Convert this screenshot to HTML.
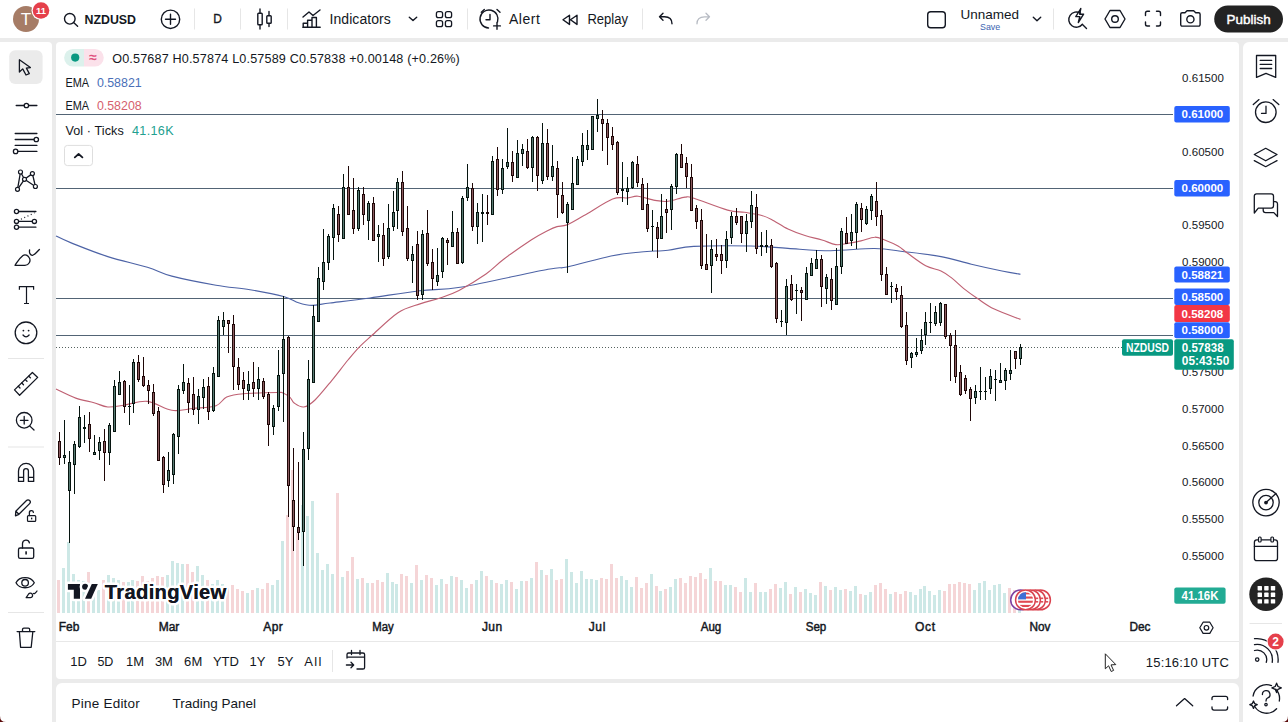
<!DOCTYPE html>
<html><head><meta charset="utf-8"><style>
html,body{margin:0;padding:0;width:1288px;height:722px;overflow:hidden;background:#ebebeb;}
svg{display:block;font-family:"Liberation Sans", sans-serif;}
</style></head><body>
<svg width="1288" height="722" viewBox="0 0 1288 722">
<rect x="0" y="0" width="1288" height="722" fill="#ebebeb"/>
<rect x="0" y="0" width="1288" height="38" fill="#fff"/>
<path d="M0 42 H48 a4 4 0 0 1 4 4 V722 H0 Z" fill="#fff"/>
<rect x="56" y="42" width="1183" height="637" rx="4" fill="#fff"/>
<path d="M62 683 H1233 a6 6 0 0 1 6 6 V722 H56 V689 a6 6 0 0 1 6 -6 Z" fill="#fff"/>
<path d="M1249 42 H1288 V722 H1243 V48 a6 6 0 0 1 6 -6 Z" fill="#fff"/>
<g shape-rendering="crispEdges">
<rect x="57" y="580" width="3" height="33" fill="#f5d5d7"/>
<rect x="62" y="568" width="3" height="45" fill="#cde8e6"/>
<rect x="67" y="542" width="3" height="71" fill="#cde8e6"/>
<rect x="72" y="574" width="3" height="39" fill="#cde8e6"/>
<rect x="77" y="580" width="3" height="33" fill="#cde8e6"/>
<rect x="82" y="581" width="3" height="32" fill="#cde8e6"/>
<rect x="87" y="572" width="3" height="41" fill="#f5d5d7"/>
<rect x="92" y="585" width="3" height="28" fill="#cde8e6"/>
<rect x="97" y="590" width="3" height="23" fill="#cde8e6"/>
<rect x="102" y="580" width="3" height="33" fill="#f5d5d7"/>
<rect x="107" y="575" width="3" height="38" fill="#cde8e6"/>
<rect x="112" y="578" width="3" height="35" fill="#cde8e6"/>
<rect x="117" y="580" width="3" height="33" fill="#cde8e6"/>
<rect x="122" y="582" width="3" height="31" fill="#f5d5d7"/>
<rect x="127" y="582" width="3" height="31" fill="#cde8e6"/>
<rect x="131" y="580" width="3" height="33" fill="#cde8e6"/>
<rect x="136" y="581" width="3" height="32" fill="#f5d5d7"/>
<rect x="141" y="576" width="3" height="37" fill="#f5d5d7"/>
<rect x="146" y="581" width="3" height="32" fill="#f5d5d7"/>
<rect x="151" y="578" width="3" height="35" fill="#f5d5d7"/>
<rect x="156" y="576" width="3" height="37" fill="#f5d5d7"/>
<rect x="161" y="577" width="3" height="36" fill="#f5d5d7"/>
<rect x="166" y="575" width="3" height="38" fill="#cde8e6"/>
<rect x="171" y="561" width="3" height="52" fill="#cde8e6"/>
<rect x="176" y="563" width="3" height="50" fill="#cde8e6"/>
<rect x="181" y="564" width="3" height="49" fill="#cde8e6"/>
<rect x="186" y="564" width="3" height="49" fill="#f5d5d7"/>
<rect x="191" y="572" width="3" height="41" fill="#f5d5d7"/>
<rect x="196" y="566" width="3" height="47" fill="#cde8e6"/>
<rect x="201" y="575" width="3" height="38" fill="#cde8e6"/>
<rect x="206" y="580" width="3" height="33" fill="#f5d5d7"/>
<rect x="211" y="584" width="3" height="29" fill="#cde8e6"/>
<rect x="216" y="580" width="3" height="33" fill="#cde8e6"/>
<rect x="221" y="584" width="3" height="29" fill="#cde8e6"/>
<rect x="226" y="588" width="3" height="25" fill="#f5d5d7"/>
<rect x="231" y="585" width="3" height="28" fill="#f5d5d7"/>
<rect x="236" y="589" width="3" height="24" fill="#f5d5d7"/>
<rect x="241" y="591" width="3" height="22" fill="#f5d5d7"/>
<rect x="246" y="593" width="3" height="20" fill="#cde8e6"/>
<rect x="251" y="590" width="3" height="23" fill="#f5d5d7"/>
<rect x="256" y="588" width="3" height="25" fill="#cde8e6"/>
<rect x="261" y="589" width="3" height="24" fill="#f5d5d7"/>
<rect x="266" y="583" width="3" height="30" fill="#f5d5d7"/>
<rect x="271" y="585" width="3" height="28" fill="#cde8e6"/>
<rect x="276" y="580" width="3" height="33" fill="#cde8e6"/>
<rect x="281" y="541" width="3" height="72" fill="#cde8e6"/>
<rect x="286" y="515" width="3" height="98" fill="#f5d5d7"/>
<rect x="291" y="470" width="3" height="143" fill="#f5d5d7"/>
<rect x="296" y="533" width="3" height="80" fill="#f5d5d7"/>
<rect x="301" y="505" width="3" height="108" fill="#cde8e6"/>
<rect x="306" y="516" width="3" height="97" fill="#cde8e6"/>
<rect x="311" y="501" width="3" height="112" fill="#cde8e6"/>
<rect x="316" y="553" width="3" height="60" fill="#cde8e6"/>
<rect x="321" y="570" width="3" height="43" fill="#cde8e6"/>
<rect x="326" y="564" width="3" height="49" fill="#cde8e6"/>
<rect x="331" y="574" width="3" height="39" fill="#cde8e6"/>
<rect x="336" y="493" width="3" height="120" fill="#f5d5d7"/>
<rect x="341" y="577" width="3" height="36" fill="#cde8e6"/>
<rect x="346" y="571" width="3" height="42" fill="#f5d5d7"/>
<rect x="351" y="557" width="3" height="56" fill="#f5d5d7"/>
<rect x="356" y="579" width="3" height="34" fill="#cde8e6"/>
<rect x="361" y="578" width="3" height="35" fill="#f5d5d7"/>
<rect x="366" y="583" width="3" height="30" fill="#cde8e6"/>
<rect x="371" y="583" width="3" height="30" fill="#f5d5d7"/>
<rect x="376" y="580" width="3" height="33" fill="#f5d5d7"/>
<rect x="381" y="582" width="3" height="31" fill="#f5d5d7"/>
<rect x="386" y="573" width="3" height="40" fill="#cde8e6"/>
<rect x="391" y="582" width="3" height="31" fill="#cde8e6"/>
<rect x="395" y="584" width="3" height="29" fill="#cde8e6"/>
<rect x="400" y="574" width="3" height="39" fill="#f5d5d7"/>
<rect x="405" y="576" width="3" height="37" fill="#f5d5d7"/>
<rect x="410" y="583" width="3" height="30" fill="#cde8e6"/>
<rect x="415" y="565" width="3" height="48" fill="#f5d5d7"/>
<rect x="420" y="580" width="3" height="33" fill="#cde8e6"/>
<rect x="425" y="575" width="3" height="38" fill="#f5d5d7"/>
<rect x="430" y="578" width="3" height="35" fill="#f5d5d7"/>
<rect x="435" y="585" width="3" height="28" fill="#cde8e6"/>
<rect x="440" y="579" width="3" height="34" fill="#cde8e6"/>
<rect x="445" y="584" width="3" height="29" fill="#f5d5d7"/>
<rect x="450" y="576" width="3" height="37" fill="#cde8e6"/>
<rect x="455" y="577" width="3" height="36" fill="#f5d5d7"/>
<rect x="460" y="580" width="3" height="33" fill="#cde8e6"/>
<rect x="465" y="588" width="3" height="25" fill="#cde8e6"/>
<rect x="470" y="584" width="3" height="29" fill="#f5d5d7"/>
<rect x="475" y="580" width="3" height="33" fill="#cde8e6"/>
<rect x="480" y="571" width="3" height="42" fill="#cde8e6"/>
<rect x="485" y="576" width="3" height="37" fill="#f5d5d7"/>
<rect x="490" y="580" width="3" height="33" fill="#cde8e6"/>
<rect x="495" y="583" width="3" height="30" fill="#f5d5d7"/>
<rect x="500" y="584" width="3" height="29" fill="#cde8e6"/>
<rect x="505" y="580" width="3" height="33" fill="#cde8e6"/>
<rect x="510" y="582" width="3" height="31" fill="#f5d5d7"/>
<rect x="515" y="589" width="3" height="24" fill="#cde8e6"/>
<rect x="520" y="581" width="3" height="32" fill="#cde8e6"/>
<rect x="525" y="581" width="3" height="32" fill="#f5d5d7"/>
<rect x="530" y="578" width="3" height="35" fill="#cde8e6"/>
<rect x="535" y="562" width="3" height="51" fill="#f5d5d7"/>
<rect x="540" y="570" width="3" height="43" fill="#cde8e6"/>
<rect x="545" y="575" width="3" height="38" fill="#f5d5d7"/>
<rect x="550" y="569" width="3" height="44" fill="#cde8e6"/>
<rect x="555" y="580" width="3" height="33" fill="#f5d5d7"/>
<rect x="560" y="579" width="3" height="34" fill="#f5d5d7"/>
<rect x="565" y="559" width="3" height="54" fill="#cde8e6"/>
<rect x="570" y="572" width="3" height="41" fill="#cde8e6"/>
<rect x="575" y="583" width="3" height="30" fill="#cde8e6"/>
<rect x="580" y="571" width="3" height="42" fill="#cde8e6"/>
<rect x="585" y="579" width="3" height="34" fill="#cde8e6"/>
<rect x="590" y="579" width="3" height="34" fill="#cde8e6"/>
<rect x="595" y="580" width="3" height="33" fill="#cde8e6"/>
<rect x="600" y="578" width="3" height="35" fill="#f5d5d7"/>
<rect x="605" y="579" width="3" height="34" fill="#f5d5d7"/>
<rect x="610" y="564" width="3" height="49" fill="#f5d5d7"/>
<rect x="615" y="578" width="3" height="35" fill="#f5d5d7"/>
<rect x="620" y="576" width="3" height="37" fill="#cde8e6"/>
<rect x="625" y="580" width="3" height="33" fill="#cde8e6"/>
<rect x="630" y="587" width="3" height="26" fill="#cde8e6"/>
<rect x="635" y="577" width="3" height="36" fill="#f5d5d7"/>
<rect x="640" y="588" width="3" height="25" fill="#f5d5d7"/>
<rect x="645" y="583" width="3" height="30" fill="#f5d5d7"/>
<rect x="650" y="574" width="3" height="39" fill="#cde8e6"/>
<rect x="655" y="586" width="3" height="27" fill="#f5d5d7"/>
<rect x="659" y="591" width="3" height="22" fill="#cde8e6"/>
<rect x="664" y="589" width="3" height="24" fill="#f5d5d7"/>
<rect x="669" y="587" width="3" height="26" fill="#cde8e6"/>
<rect x="674" y="579" width="3" height="34" fill="#cde8e6"/>
<rect x="679" y="578" width="3" height="35" fill="#f5d5d7"/>
<rect x="684" y="583" width="3" height="30" fill="#f5d5d7"/>
<rect x="689" y="576" width="3" height="37" fill="#f5d5d7"/>
<rect x="694" y="577" width="3" height="36" fill="#f5d5d7"/>
<rect x="699" y="573" width="3" height="40" fill="#f5d5d7"/>
<rect x="704" y="579" width="3" height="34" fill="#f5d5d7"/>
<rect x="709" y="568" width="3" height="45" fill="#cde8e6"/>
<rect x="714" y="581" width="3" height="32" fill="#f5d5d7"/>
<rect x="719" y="581" width="3" height="32" fill="#f5d5d7"/>
<rect x="724" y="585" width="3" height="28" fill="#cde8e6"/>
<rect x="729" y="585" width="3" height="28" fill="#cde8e6"/>
<rect x="734" y="587" width="3" height="26" fill="#f5d5d7"/>
<rect x="739" y="592" width="3" height="21" fill="#f5d5d7"/>
<rect x="744" y="578" width="3" height="35" fill="#cde8e6"/>
<rect x="749" y="592" width="3" height="21" fill="#cde8e6"/>
<rect x="754" y="583" width="3" height="30" fill="#f5d5d7"/>
<rect x="759" y="592" width="3" height="21" fill="#cde8e6"/>
<rect x="764" y="592" width="3" height="21" fill="#cde8e6"/>
<rect x="769" y="589" width="3" height="24" fill="#f5d5d7"/>
<rect x="774" y="584" width="3" height="29" fill="#f5d5d7"/>
<rect x="779" y="588" width="3" height="25" fill="#cde8e6"/>
<rect x="784" y="582" width="3" height="31" fill="#cde8e6"/>
<rect x="789" y="594" width="3" height="19" fill="#f5d5d7"/>
<rect x="794" y="587" width="3" height="26" fill="#cde8e6"/>
<rect x="799" y="592" width="3" height="21" fill="#f5d5d7"/>
<rect x="804" y="589" width="3" height="24" fill="#cde8e6"/>
<rect x="809" y="593" width="3" height="20" fill="#cde8e6"/>
<rect x="814" y="595" width="3" height="18" fill="#cde8e6"/>
<rect x="819" y="582" width="3" height="31" fill="#f5d5d7"/>
<rect x="824" y="586" width="3" height="27" fill="#cde8e6"/>
<rect x="829" y="590" width="3" height="23" fill="#f5d5d7"/>
<rect x="834" y="587" width="3" height="26" fill="#cde8e6"/>
<rect x="839" y="590" width="3" height="23" fill="#cde8e6"/>
<rect x="844" y="589" width="3" height="24" fill="#f5d5d7"/>
<rect x="849" y="591" width="3" height="22" fill="#cde8e6"/>
<rect x="854" y="586" width="3" height="27" fill="#cde8e6"/>
<rect x="859" y="594" width="3" height="19" fill="#f5d5d7"/>
<rect x="864" y="595" width="3" height="18" fill="#cde8e6"/>
<rect x="869" y="592" width="3" height="21" fill="#cde8e6"/>
<rect x="874" y="585" width="3" height="28" fill="#f5d5d7"/>
<rect x="879" y="583" width="3" height="30" fill="#f5d5d7"/>
<rect x="884" y="589" width="3" height="24" fill="#f5d5d7"/>
<rect x="889" y="594" width="3" height="19" fill="#cde8e6"/>
<rect x="894" y="592" width="3" height="21" fill="#f5d5d7"/>
<rect x="899" y="594" width="3" height="19" fill="#f5d5d7"/>
<rect x="904" y="591" width="3" height="22" fill="#f5d5d7"/>
<rect x="909" y="592" width="3" height="21" fill="#cde8e6"/>
<rect x="914" y="595" width="3" height="18" fill="#cde8e6"/>
<rect x="919" y="589" width="3" height="24" fill="#cde8e6"/>
<rect x="923" y="586" width="3" height="27" fill="#cde8e6"/>
<rect x="928" y="591" width="3" height="22" fill="#cde8e6"/>
<rect x="933" y="595" width="3" height="18" fill="#cde8e6"/>
<rect x="938" y="590" width="3" height="23" fill="#cde8e6"/>
<rect x="943" y="591" width="3" height="22" fill="#f5d5d7"/>
<rect x="948" y="584" width="3" height="29" fill="#f5d5d7"/>
<rect x="953" y="584" width="3" height="29" fill="#f5d5d7"/>
<rect x="958" y="582" width="3" height="31" fill="#f5d5d7"/>
<rect x="963" y="583" width="3" height="30" fill="#f5d5d7"/>
<rect x="968" y="584" width="3" height="29" fill="#f5d5d7"/>
<rect x="973" y="590" width="3" height="23" fill="#cde8e6"/>
<rect x="978" y="583" width="3" height="30" fill="#cde8e6"/>
<rect x="983" y="581" width="3" height="32" fill="#cde8e6"/>
<rect x="988" y="590" width="3" height="23" fill="#cde8e6"/>
<rect x="993" y="585" width="3" height="28" fill="#cde8e6"/>
<rect x="998" y="584" width="3" height="29" fill="#cde8e6"/>
<rect x="1003" y="593" width="3" height="20" fill="#cde8e6"/>
<rect x="1008" y="588" width="3" height="25" fill="#f5d5d7"/>
<rect x="1013" y="590" width="3" height="23" fill="#f5d5d7"/>
<rect x="1018" y="595" width="3" height="18" fill="#cde8e6"/>
<rect x="56" y="114" width="1117" height="1" fill="#526475"/>
<rect x="56" y="188" width="1117" height="1" fill="#526475"/>
<rect x="56" y="298" width="1117" height="1" fill="#526475"/>
<rect x="56" y="335" width="1117" height="1" fill="#526475"/>
<pattern id="dots" x="56" y="347" width="3" height="1" patternUnits="userSpaceOnUse"><rect width="1" height="1" fill="#56625f"/></pattern>
<rect x="56" y="347" width="1066" height="1" fill="url(#dots)"/>
</g>
<path d="M56.0 236.0 C58.5 237.2 62.6 239.5 71.2 242.9 C79.8 246.3 95.1 252.6 107.8 256.6 C120.5 260.7 136.7 263.9 147.4 267.2 C158.1 270.4 160.4 273.1 171.8 276.1 C183.2 279.1 203.0 282.9 216.0 285.2 C229.0 287.5 238.7 287.8 250.0 289.7 C261.3 291.6 275.5 294.3 283.6 296.5 C291.7 298.7 293.8 301.3 298.5 302.8 C303.2 304.3 306.8 305.4 312.0 305.4 C317.2 305.4 320.3 304.2 330.0 303.0 C339.7 301.8 355.0 300.1 370.0 298.0 C385.0 295.9 404.7 292.5 420.0 290.7 C435.3 288.9 440.7 290.6 462.0 287.0 C483.3 283.4 530.5 272.6 548.0 269.3 C565.5 266.0 556.5 269.2 567.0 267.0 C577.5 264.8 598.7 258.5 611.0 256.0 C623.3 253.5 631.5 253.0 641.0 252.0 C650.5 251.0 659.2 251.1 668.0 250.2 C676.8 249.3 680.0 247.1 693.8 246.4 C707.6 245.7 735.3 245.7 751.0 246.0 C766.7 246.3 774.7 247.6 788.0 248.4 C801.3 249.2 816.3 250.7 830.7 250.7 C845.1 250.7 862.3 248.3 874.6 248.5 C886.9 248.7 893.3 250.3 904.4 251.7 C915.5 253.0 929.8 254.5 941.0 256.6 C952.2 258.7 961.2 261.8 971.4 264.2 C981.6 266.6 993.8 269.3 1002.0 271.0 C1010.2 272.7 1017.4 273.7 1020.5 274.2" fill="none" stroke="#4d63a6" stroke-width="1.15" stroke-linejoin="round"/>
<path d="M56.0 389.0 C59.3 390.5 69.5 395.8 75.8 398.1 C82.1 400.4 88.7 401.2 94.0 402.7 C99.3 404.2 102.7 406.6 107.8 407.0 C112.9 407.4 118.0 405.9 124.6 405.0 C131.2 404.1 139.5 400.5 147.4 401.4 C155.3 402.3 164.2 409.1 171.8 410.3 C179.4 411.5 185.6 409.3 193.0 408.5 C200.4 407.7 210.4 407.6 216.0 405.7 C221.6 403.8 222.1 399.0 226.7 397.0 C231.3 395.0 235.2 394.4 243.6 393.7 C252.0 392.9 270.9 392.6 277.4 392.5 C283.9 392.4 280.3 392.0 282.4 392.8 C284.5 393.6 288.0 395.7 290.0 397.4 C292.0 399.1 291.9 401.4 294.2 403.0 C296.5 404.6 300.3 407.5 303.8 407.0 C307.3 406.5 310.4 404.4 315.0 400.0 C319.6 395.6 326.0 387.5 331.5 380.8 C337.0 374.1 343.4 365.6 348.0 360.0 C352.6 354.4 355.0 351.4 359.0 347.3 C363.0 343.2 365.3 341.3 371.8 335.5 C378.3 329.7 390.0 318.0 398.0 312.7 C406.0 307.4 413.0 306.3 420.0 303.9 C427.0 301.4 433.5 300.2 440.0 298.0 C446.5 295.8 451.3 294.4 459.0 290.4 C466.7 286.4 478.5 279.2 486.0 274.0 C493.5 268.8 496.4 264.7 504.0 259.0 C511.6 253.3 524.2 244.5 531.5 239.7 C538.8 234.9 543.8 232.6 548.0 230.4 C552.2 228.2 553.8 227.5 557.0 226.6 C560.2 225.7 562.5 226.7 567.0 224.9 C571.5 223.1 576.4 219.9 584.0 215.6 C591.6 211.3 605.3 201.9 612.6 199.0 C619.9 196.1 623.8 198.4 628.0 197.9 C632.2 197.4 633.5 195.8 638.0 196.2 C642.5 196.6 650.0 199.6 655.0 200.4 C660.0 201.2 663.0 201.9 668.0 201.3 C673.0 200.8 680.7 197.6 685.0 197.1 C689.3 196.6 686.9 196.1 694.0 198.3 C701.1 200.5 719.2 207.8 727.6 210.1 C736.0 212.4 738.9 211.5 744.5 212.3 C750.1 213.2 756.5 214.0 761.0 215.2 C765.5 216.4 767.0 217.1 771.5 219.4 C776.0 221.7 782.4 226.3 788.0 229.0 C793.6 231.7 799.3 233.7 805.0 235.5 C810.7 237.3 816.9 238.5 822.0 240.0 C827.1 241.5 831.4 244.0 835.7 244.6 C840.0 245.2 843.4 244.0 847.6 243.4 C851.8 242.8 856.5 241.9 861.0 240.9 C865.5 239.9 870.6 237.3 874.6 237.2 C878.6 237.0 880.8 238.5 884.7 240.0 C888.6 241.5 894.1 243.8 898.0 246.0 C901.9 248.2 903.4 250.2 908.0 253.5 C912.6 256.8 920.2 262.8 925.7 265.7 C931.2 268.6 936.7 269.0 941.0 271.0 C945.3 273.0 947.8 275.0 951.6 277.9 C955.4 280.8 959.5 285.2 963.8 288.6 C968.1 292.0 972.4 295.1 977.5 298.5 C982.6 301.9 987.1 305.6 994.3 309.1 C1001.5 312.6 1016.1 317.7 1020.5 319.4" fill="none" stroke="#bf6173" stroke-width="1.15" stroke-linejoin="round"/>
<g shape-rendering="crispEdges">
<rect x="59" y="432" width="1" height="33" fill="#1e0707"/>
<rect x="58" y="441" width="3" height="17" fill="#1e0707"/>
<rect x="59" y="442" width="1" height="15" fill="#8a5a5f"/>
<rect x="64" y="420" width="1" height="44" fill="#06140f"/>
<rect x="63" y="455" width="3" height="3" fill="#06140f"/>
<rect x="64" y="456" width="1" height="1" fill="#587a72"/>
<rect x="69" y="451" width="1" height="92" fill="#06140f"/>
<rect x="68" y="462" width="3" height="29" fill="#06140f"/>
<rect x="69" y="463" width="1" height="27" fill="#587a72"/>
<rect x="74" y="441" width="1" height="53" fill="#06140f"/>
<rect x="73" y="444" width="3" height="21" fill="#06140f"/>
<rect x="74" y="445" width="1" height="19" fill="#587a72"/>
<rect x="79" y="406" width="1" height="42" fill="#06140f"/>
<rect x="78" y="417" width="3" height="30" fill="#06140f"/>
<rect x="79" y="418" width="1" height="28" fill="#587a72"/>
<rect x="84" y="415" width="1" height="28" fill="#06140f"/>
<rect x="83" y="427" width="3" height="2" fill="#06140f"/>
<rect x="89" y="412" width="1" height="40" fill="#1e0707"/>
<rect x="88" y="424" width="3" height="15" fill="#1e0707"/>
<rect x="89" y="425" width="1" height="13" fill="#8a5a5f"/>
<rect x="94" y="435" width="1" height="20" fill="#06140f"/>
<rect x="93" y="452" width="3" height="3" fill="#06140f"/>
<rect x="94" y="453" width="1" height="1" fill="#587a72"/>
<rect x="99" y="437" width="1" height="23" fill="#06140f"/>
<rect x="98" y="442" width="3" height="9" fill="#06140f"/>
<rect x="99" y="443" width="1" height="7" fill="#587a72"/>
<rect x="104" y="429" width="1" height="52" fill="#1e0707"/>
<rect x="103" y="441" width="3" height="12" fill="#1e0707"/>
<rect x="104" y="442" width="1" height="10" fill="#8a5a5f"/>
<rect x="109" y="423" width="1" height="42" fill="#06140f"/>
<rect x="108" y="425" width="3" height="28" fill="#06140f"/>
<rect x="109" y="426" width="1" height="26" fill="#587a72"/>
<rect x="114" y="380" width="1" height="51" fill="#06140f"/>
<rect x="113" y="386" width="3" height="46" fill="#06140f"/>
<rect x="114" y="387" width="1" height="44" fill="#587a72"/>
<rect x="119" y="371" width="1" height="24" fill="#06140f"/>
<rect x="118" y="382" width="3" height="13" fill="#06140f"/>
<rect x="119" y="383" width="1" height="11" fill="#587a72"/>
<rect x="124" y="380" width="1" height="33" fill="#1e0707"/>
<rect x="123" y="381" width="3" height="26" fill="#1e0707"/>
<rect x="124" y="382" width="1" height="24" fill="#8a5a5f"/>
<rect x="129" y="385" width="1" height="40" fill="#06140f"/>
<rect x="128" y="406" width="3" height="1" fill="#06140f"/>
<rect x="133" y="359" width="1" height="54" fill="#06140f"/>
<rect x="132" y="362" width="3" height="42" fill="#06140f"/>
<rect x="133" y="363" width="1" height="40" fill="#587a72"/>
<rect x="138" y="355" width="1" height="27" fill="#1e0707"/>
<rect x="137" y="362" width="3" height="18" fill="#1e0707"/>
<rect x="138" y="363" width="1" height="16" fill="#8a5a5f"/>
<rect x="143" y="357" width="1" height="30" fill="#1e0707"/>
<rect x="142" y="376" width="3" height="10" fill="#1e0707"/>
<rect x="143" y="377" width="1" height="8" fill="#8a5a5f"/>
<rect x="148" y="380" width="1" height="24" fill="#1e0707"/>
<rect x="147" y="385" width="3" height="6" fill="#1e0707"/>
<rect x="148" y="386" width="1" height="4" fill="#8a5a5f"/>
<rect x="153" y="384" width="1" height="32" fill="#1e0707"/>
<rect x="152" y="392" width="3" height="22" fill="#1e0707"/>
<rect x="153" y="393" width="1" height="20" fill="#8a5a5f"/>
<rect x="158" y="407" width="1" height="53" fill="#1e0707"/>
<rect x="157" y="411" width="3" height="50" fill="#1e0707"/>
<rect x="158" y="412" width="1" height="48" fill="#8a5a5f"/>
<rect x="163" y="456" width="1" height="37" fill="#1e0707"/>
<rect x="162" y="457" width="3" height="28" fill="#1e0707"/>
<rect x="163" y="458" width="1" height="26" fill="#8a5a5f"/>
<rect x="168" y="452" width="1" height="35" fill="#06140f"/>
<rect x="167" y="470" width="3" height="11" fill="#06140f"/>
<rect x="168" y="471" width="1" height="9" fill="#587a72"/>
<rect x="173" y="433" width="1" height="51" fill="#06140f"/>
<rect x="172" y="434" width="3" height="41" fill="#06140f"/>
<rect x="173" y="435" width="1" height="39" fill="#587a72"/>
<rect x="178" y="385" width="1" height="69" fill="#06140f"/>
<rect x="177" y="389" width="3" height="48" fill="#06140f"/>
<rect x="178" y="390" width="1" height="46" fill="#587a72"/>
<rect x="183" y="364" width="1" height="30" fill="#06140f"/>
<rect x="182" y="382" width="3" height="9" fill="#06140f"/>
<rect x="183" y="383" width="1" height="7" fill="#587a72"/>
<rect x="188" y="378" width="1" height="35" fill="#1e0707"/>
<rect x="187" y="383" width="3" height="20" fill="#1e0707"/>
<rect x="188" y="384" width="1" height="18" fill="#8a5a5f"/>
<rect x="193" y="377" width="1" height="38" fill="#1e0707"/>
<rect x="192" y="394" width="3" height="16" fill="#1e0707"/>
<rect x="193" y="395" width="1" height="14" fill="#8a5a5f"/>
<rect x="198" y="389" width="1" height="35" fill="#06140f"/>
<rect x="197" y="396" width="3" height="14" fill="#06140f"/>
<rect x="198" y="397" width="1" height="12" fill="#587a72"/>
<rect x="203" y="379" width="1" height="30" fill="#06140f"/>
<rect x="202" y="387" width="3" height="11" fill="#06140f"/>
<rect x="203" y="388" width="1" height="9" fill="#587a72"/>
<rect x="208" y="377" width="1" height="43" fill="#1e0707"/>
<rect x="207" y="386" width="3" height="26" fill="#1e0707"/>
<rect x="208" y="387" width="1" height="24" fill="#8a5a5f"/>
<rect x="213" y="367" width="1" height="45" fill="#06140f"/>
<rect x="212" y="373" width="3" height="38" fill="#06140f"/>
<rect x="213" y="374" width="1" height="36" fill="#587a72"/>
<rect x="218" y="316" width="1" height="60" fill="#06140f"/>
<rect x="217" y="320" width="3" height="57" fill="#06140f"/>
<rect x="218" y="321" width="1" height="55" fill="#587a72"/>
<rect x="223" y="312" width="1" height="23" fill="#06140f"/>
<rect x="222" y="320" width="3" height="7" fill="#06140f"/>
<rect x="223" y="321" width="1" height="5" fill="#587a72"/>
<rect x="228" y="320" width="1" height="33" fill="#1e0707"/>
<rect x="227" y="320" width="3" height="4" fill="#1e0707"/>
<rect x="228" y="321" width="1" height="2" fill="#8a5a5f"/>
<rect x="233" y="315" width="1" height="75" fill="#1e0707"/>
<rect x="232" y="324" width="3" height="43" fill="#1e0707"/>
<rect x="233" y="325" width="1" height="41" fill="#8a5a5f"/>
<rect x="238" y="358" width="1" height="32" fill="#1e0707"/>
<rect x="237" y="367" width="3" height="18" fill="#1e0707"/>
<rect x="238" y="368" width="1" height="16" fill="#8a5a5f"/>
<rect x="243" y="372" width="1" height="28" fill="#1e0707"/>
<rect x="242" y="380" width="3" height="9" fill="#1e0707"/>
<rect x="243" y="381" width="1" height="7" fill="#8a5a5f"/>
<rect x="248" y="371" width="1" height="29" fill="#06140f"/>
<rect x="247" y="384" width="3" height="7" fill="#06140f"/>
<rect x="248" y="385" width="1" height="5" fill="#587a72"/>
<rect x="253" y="362" width="1" height="35" fill="#1e0707"/>
<rect x="252" y="382" width="3" height="7" fill="#1e0707"/>
<rect x="253" y="383" width="1" height="5" fill="#8a5a5f"/>
<rect x="258" y="367" width="1" height="33" fill="#06140f"/>
<rect x="257" y="379" width="3" height="10" fill="#06140f"/>
<rect x="258" y="380" width="1" height="8" fill="#587a72"/>
<rect x="263" y="378" width="1" height="21" fill="#1e0707"/>
<rect x="262" y="381" width="3" height="16" fill="#1e0707"/>
<rect x="263" y="382" width="1" height="14" fill="#8a5a5f"/>
<rect x="268" y="392" width="1" height="54" fill="#1e0707"/>
<rect x="267" y="394" width="3" height="31" fill="#1e0707"/>
<rect x="268" y="395" width="1" height="29" fill="#8a5a5f"/>
<rect x="273" y="405" width="1" height="30" fill="#06140f"/>
<rect x="272" y="408" width="3" height="19" fill="#06140f"/>
<rect x="273" y="409" width="1" height="17" fill="#587a72"/>
<rect x="278" y="350" width="1" height="61" fill="#06140f"/>
<rect x="277" y="375" width="3" height="32" fill="#06140f"/>
<rect x="278" y="376" width="1" height="30" fill="#587a72"/>
<rect x="283" y="296" width="1" height="126" fill="#06140f"/>
<rect x="282" y="339" width="3" height="35" fill="#06140f"/>
<rect x="283" y="340" width="1" height="33" fill="#587a72"/>
<rect x="288" y="336" width="1" height="181" fill="#1e0707"/>
<rect x="287" y="337" width="3" height="149" fill="#1e0707"/>
<rect x="288" y="338" width="1" height="147" fill="#8a5a5f"/>
<rect x="293" y="448" width="1" height="103" fill="#1e0707"/>
<rect x="292" y="500" width="3" height="27" fill="#1e0707"/>
<rect x="293" y="501" width="1" height="25" fill="#8a5a5f"/>
<rect x="298" y="462" width="1" height="78" fill="#1e0707"/>
<rect x="297" y="527" width="3" height="6" fill="#1e0707"/>
<rect x="298" y="528" width="1" height="4" fill="#8a5a5f"/>
<rect x="303" y="432" width="1" height="134" fill="#06140f"/>
<rect x="302" y="449" width="3" height="83" fill="#06140f"/>
<rect x="303" y="450" width="1" height="81" fill="#587a72"/>
<rect x="308" y="360" width="1" height="100" fill="#06140f"/>
<rect x="307" y="379" width="3" height="70" fill="#06140f"/>
<rect x="308" y="380" width="1" height="68" fill="#587a72"/>
<rect x="313" y="305" width="1" height="77" fill="#06140f"/>
<rect x="312" y="316" width="3" height="67" fill="#06140f"/>
<rect x="313" y="317" width="1" height="65" fill="#587a72"/>
<rect x="318" y="267" width="1" height="54" fill="#06140f"/>
<rect x="317" y="278" width="3" height="44" fill="#06140f"/>
<rect x="318" y="279" width="1" height="42" fill="#587a72"/>
<rect x="323" y="229" width="1" height="61" fill="#06140f"/>
<rect x="322" y="262" width="3" height="20" fill="#06140f"/>
<rect x="323" y="263" width="1" height="18" fill="#587a72"/>
<rect x="328" y="234" width="1" height="36" fill="#06140f"/>
<rect x="327" y="236" width="3" height="27" fill="#06140f"/>
<rect x="328" y="237" width="1" height="25" fill="#587a72"/>
<rect x="333" y="204" width="1" height="56" fill="#06140f"/>
<rect x="332" y="208" width="3" height="30" fill="#06140f"/>
<rect x="333" y="209" width="1" height="28" fill="#587a72"/>
<rect x="338" y="206" width="1" height="36" fill="#1e0707"/>
<rect x="337" y="214" width="3" height="21" fill="#1e0707"/>
<rect x="338" y="215" width="1" height="19" fill="#8a5a5f"/>
<rect x="343" y="174" width="1" height="64" fill="#06140f"/>
<rect x="342" y="187" width="3" height="52" fill="#06140f"/>
<rect x="343" y="188" width="1" height="50" fill="#587a72"/>
<rect x="348" y="166" width="1" height="48" fill="#1e0707"/>
<rect x="347" y="187" width="3" height="28" fill="#1e0707"/>
<rect x="348" y="188" width="1" height="26" fill="#8a5a5f"/>
<rect x="353" y="178" width="1" height="56" fill="#1e0707"/>
<rect x="352" y="210" width="3" height="19" fill="#1e0707"/>
<rect x="353" y="211" width="1" height="17" fill="#8a5a5f"/>
<rect x="358" y="187" width="1" height="44" fill="#06140f"/>
<rect x="357" y="190" width="3" height="39" fill="#06140f"/>
<rect x="358" y="191" width="1" height="37" fill="#587a72"/>
<rect x="363" y="187" width="1" height="38" fill="#1e0707"/>
<rect x="362" y="194" width="3" height="21" fill="#1e0707"/>
<rect x="363" y="195" width="1" height="19" fill="#8a5a5f"/>
<rect x="368" y="201" width="1" height="39" fill="#06140f"/>
<rect x="367" y="203" width="3" height="18" fill="#06140f"/>
<rect x="368" y="204" width="1" height="16" fill="#587a72"/>
<rect x="373" y="197" width="1" height="44" fill="#1e0707"/>
<rect x="372" y="203" width="3" height="38" fill="#1e0707"/>
<rect x="373" y="204" width="1" height="36" fill="#8a5a5f"/>
<rect x="378" y="225" width="1" height="37" fill="#06140f"/>
<rect x="377" y="234" width="3" height="3" fill="#06140f"/>
<rect x="378" y="235" width="1" height="1" fill="#587a72"/>
<rect x="383" y="223" width="1" height="43" fill="#1e0707"/>
<rect x="382" y="235" width="3" height="24" fill="#1e0707"/>
<rect x="383" y="236" width="1" height="22" fill="#8a5a5f"/>
<rect x="388" y="204" width="1" height="55" fill="#06140f"/>
<rect x="387" y="228" width="3" height="29" fill="#06140f"/>
<rect x="388" y="229" width="1" height="27" fill="#587a72"/>
<rect x="393" y="191" width="1" height="40" fill="#06140f"/>
<rect x="392" y="212" width="3" height="15" fill="#06140f"/>
<rect x="393" y="213" width="1" height="13" fill="#587a72"/>
<rect x="397" y="178" width="1" height="51" fill="#06140f"/>
<rect x="396" y="182" width="3" height="29" fill="#06140f"/>
<rect x="397" y="183" width="1" height="27" fill="#587a72"/>
<rect x="402" y="171" width="1" height="65" fill="#1e0707"/>
<rect x="401" y="182" width="3" height="50" fill="#1e0707"/>
<rect x="402" y="183" width="1" height="48" fill="#8a5a5f"/>
<rect x="407" y="206" width="1" height="55" fill="#1e0707"/>
<rect x="406" y="228" width="3" height="31" fill="#1e0707"/>
<rect x="407" y="229" width="1" height="29" fill="#8a5a5f"/>
<rect x="412" y="246" width="1" height="37" fill="#06140f"/>
<rect x="411" y="254" width="3" height="7" fill="#06140f"/>
<rect x="412" y="255" width="1" height="5" fill="#587a72"/>
<rect x="417" y="231" width="1" height="69" fill="#1e0707"/>
<rect x="416" y="244" width="3" height="52" fill="#1e0707"/>
<rect x="417" y="245" width="1" height="50" fill="#8a5a5f"/>
<rect x="422" y="230" width="1" height="70" fill="#06140f"/>
<rect x="421" y="234" width="3" height="61" fill="#06140f"/>
<rect x="422" y="235" width="1" height="59" fill="#587a72"/>
<rect x="427" y="210" width="1" height="56" fill="#1e0707"/>
<rect x="426" y="233" width="3" height="31" fill="#1e0707"/>
<rect x="427" y="234" width="1" height="29" fill="#8a5a5f"/>
<rect x="432" y="249" width="1" height="41" fill="#1e0707"/>
<rect x="431" y="262" width="3" height="17" fill="#1e0707"/>
<rect x="432" y="263" width="1" height="15" fill="#8a5a5f"/>
<rect x="437" y="248" width="1" height="38" fill="#06140f"/>
<rect x="436" y="275" width="3" height="7" fill="#06140f"/>
<rect x="437" y="276" width="1" height="5" fill="#587a72"/>
<rect x="442" y="237" width="1" height="41" fill="#06140f"/>
<rect x="441" y="238" width="3" height="34" fill="#06140f"/>
<rect x="442" y="239" width="1" height="32" fill="#587a72"/>
<rect x="447" y="238" width="1" height="27" fill="#1e0707"/>
<rect x="446" y="240" width="3" height="3" fill="#1e0707"/>
<rect x="447" y="241" width="1" height="1" fill="#8a5a5f"/>
<rect x="452" y="211" width="1" height="35" fill="#06140f"/>
<rect x="451" y="232" width="3" height="15" fill="#06140f"/>
<rect x="452" y="233" width="1" height="13" fill="#587a72"/>
<rect x="457" y="228" width="1" height="36" fill="#1e0707"/>
<rect x="456" y="232" width="3" height="32" fill="#1e0707"/>
<rect x="457" y="233" width="1" height="30" fill="#8a5a5f"/>
<rect x="462" y="196" width="1" height="68" fill="#06140f"/>
<rect x="461" y="198" width="3" height="65" fill="#06140f"/>
<rect x="462" y="199" width="1" height="63" fill="#587a72"/>
<rect x="467" y="164" width="1" height="37" fill="#06140f"/>
<rect x="466" y="187" width="3" height="11" fill="#06140f"/>
<rect x="467" y="188" width="1" height="9" fill="#587a72"/>
<rect x="472" y="183" width="1" height="48" fill="#1e0707"/>
<rect x="471" y="188" width="3" height="39" fill="#1e0707"/>
<rect x="472" y="189" width="1" height="37" fill="#8a5a5f"/>
<rect x="477" y="203" width="1" height="41" fill="#06140f"/>
<rect x="476" y="212" width="3" height="15" fill="#06140f"/>
<rect x="477" y="213" width="1" height="13" fill="#587a72"/>
<rect x="482" y="194" width="1" height="48" fill="#06140f"/>
<rect x="481" y="212" width="3" height="2" fill="#06140f"/>
<rect x="487" y="195" width="1" height="30" fill="#1e0707"/>
<rect x="486" y="212" width="3" height="2" fill="#1e0707"/>
<rect x="492" y="156" width="1" height="59" fill="#06140f"/>
<rect x="491" y="161" width="3" height="54" fill="#06140f"/>
<rect x="492" y="162" width="1" height="52" fill="#587a72"/>
<rect x="497" y="147" width="1" height="49" fill="#1e0707"/>
<rect x="496" y="159" width="3" height="31" fill="#1e0707"/>
<rect x="497" y="160" width="1" height="29" fill="#8a5a5f"/>
<rect x="502" y="159" width="1" height="35" fill="#06140f"/>
<rect x="501" y="168" width="3" height="22" fill="#06140f"/>
<rect x="502" y="169" width="1" height="20" fill="#587a72"/>
<rect x="507" y="128" width="1" height="41" fill="#06140f"/>
<rect x="506" y="162" width="3" height="5" fill="#06140f"/>
<rect x="507" y="163" width="1" height="3" fill="#587a72"/>
<rect x="512" y="151" width="1" height="31" fill="#1e0707"/>
<rect x="511" y="162" width="3" height="14" fill="#1e0707"/>
<rect x="512" y="163" width="1" height="12" fill="#8a5a5f"/>
<rect x="517" y="140" width="1" height="37" fill="#06140f"/>
<rect x="516" y="153" width="3" height="25" fill="#06140f"/>
<rect x="517" y="154" width="1" height="23" fill="#587a72"/>
<rect x="522" y="144" width="1" height="22" fill="#06140f"/>
<rect x="521" y="149" width="3" height="5" fill="#06140f"/>
<rect x="522" y="150" width="1" height="3" fill="#587a72"/>
<rect x="527" y="139" width="1" height="30" fill="#1e0707"/>
<rect x="526" y="151" width="3" height="17" fill="#1e0707"/>
<rect x="527" y="152" width="1" height="15" fill="#8a5a5f"/>
<rect x="532" y="136" width="1" height="46" fill="#06140f"/>
<rect x="531" y="137" width="3" height="31" fill="#06140f"/>
<rect x="532" y="138" width="1" height="29" fill="#587a72"/>
<rect x="537" y="136" width="1" height="55" fill="#1e0707"/>
<rect x="536" y="137" width="3" height="39" fill="#1e0707"/>
<rect x="537" y="138" width="1" height="37" fill="#8a5a5f"/>
<rect x="542" y="123" width="1" height="61" fill="#06140f"/>
<rect x="541" y="143" width="3" height="38" fill="#06140f"/>
<rect x="542" y="144" width="1" height="36" fill="#587a72"/>
<rect x="547" y="129" width="1" height="51" fill="#1e0707"/>
<rect x="546" y="143" width="3" height="34" fill="#1e0707"/>
<rect x="547" y="144" width="1" height="32" fill="#8a5a5f"/>
<rect x="552" y="145" width="1" height="36" fill="#06140f"/>
<rect x="551" y="166" width="3" height="11" fill="#06140f"/>
<rect x="552" y="167" width="1" height="9" fill="#587a72"/>
<rect x="557" y="161" width="1" height="57" fill="#1e0707"/>
<rect x="556" y="168" width="3" height="27" fill="#1e0707"/>
<rect x="557" y="169" width="1" height="25" fill="#8a5a5f"/>
<rect x="562" y="182" width="1" height="32" fill="#1e0707"/>
<rect x="561" y="195" width="3" height="18" fill="#1e0707"/>
<rect x="562" y="196" width="1" height="16" fill="#8a5a5f"/>
<rect x="567" y="202" width="1" height="71" fill="#06140f"/>
<rect x="566" y="204" width="3" height="19" fill="#06140f"/>
<rect x="567" y="205" width="1" height="17" fill="#587a72"/>
<rect x="572" y="157" width="1" height="52" fill="#06140f"/>
<rect x="571" y="183" width="3" height="27" fill="#06140f"/>
<rect x="572" y="184" width="1" height="25" fill="#587a72"/>
<rect x="577" y="156" width="1" height="28" fill="#06140f"/>
<rect x="576" y="159" width="3" height="26" fill="#06140f"/>
<rect x="577" y="160" width="1" height="24" fill="#587a72"/>
<rect x="582" y="133" width="1" height="33" fill="#06140f"/>
<rect x="581" y="145" width="3" height="17" fill="#06140f"/>
<rect x="582" y="146" width="1" height="15" fill="#587a72"/>
<rect x="587" y="130" width="1" height="30" fill="#06140f"/>
<rect x="586" y="145" width="3" height="5" fill="#06140f"/>
<rect x="587" y="146" width="1" height="3" fill="#587a72"/>
<rect x="592" y="116" width="1" height="33" fill="#06140f"/>
<rect x="591" y="116" width="3" height="34" fill="#06140f"/>
<rect x="592" y="117" width="1" height="32" fill="#587a72"/>
<rect x="597" y="99" width="1" height="33" fill="#06140f"/>
<rect x="596" y="115" width="3" height="4" fill="#06140f"/>
<rect x="597" y="116" width="1" height="2" fill="#587a72"/>
<rect x="602" y="110" width="1" height="41" fill="#1e0707"/>
<rect x="601" y="119" width="3" height="5" fill="#1e0707"/>
<rect x="602" y="120" width="1" height="3" fill="#8a5a5f"/>
<rect x="607" y="119" width="1" height="46" fill="#1e0707"/>
<rect x="606" y="123" width="3" height="15" fill="#1e0707"/>
<rect x="607" y="124" width="1" height="13" fill="#8a5a5f"/>
<rect x="612" y="127" width="1" height="23" fill="#1e0707"/>
<rect x="611" y="136" width="3" height="9" fill="#1e0707"/>
<rect x="612" y="137" width="1" height="7" fill="#8a5a5f"/>
<rect x="617" y="141" width="1" height="54" fill="#1e0707"/>
<rect x="616" y="142" width="3" height="51" fill="#1e0707"/>
<rect x="617" y="143" width="1" height="49" fill="#8a5a5f"/>
<rect x="622" y="162" width="1" height="40" fill="#06140f"/>
<rect x="621" y="189" width="3" height="2" fill="#06140f"/>
<rect x="627" y="177" width="1" height="28" fill="#06140f"/>
<rect x="626" y="188" width="3" height="4" fill="#06140f"/>
<rect x="627" y="189" width="1" height="2" fill="#587a72"/>
<rect x="632" y="161" width="1" height="28" fill="#06140f"/>
<rect x="631" y="162" width="3" height="26" fill="#06140f"/>
<rect x="632" y="163" width="1" height="24" fill="#587a72"/>
<rect x="637" y="156" width="1" height="31" fill="#1e0707"/>
<rect x="636" y="164" width="3" height="19" fill="#1e0707"/>
<rect x="637" y="165" width="1" height="17" fill="#8a5a5f"/>
<rect x="642" y="178" width="1" height="32" fill="#1e0707"/>
<rect x="641" y="184" width="3" height="26" fill="#1e0707"/>
<rect x="642" y="185" width="1" height="24" fill="#8a5a5f"/>
<rect x="647" y="183" width="1" height="49" fill="#1e0707"/>
<rect x="646" y="204" width="3" height="25" fill="#1e0707"/>
<rect x="647" y="205" width="1" height="23" fill="#8a5a5f"/>
<rect x="652" y="210" width="1" height="41" fill="#06140f"/>
<rect x="651" y="226" width="3" height="1" fill="#06140f"/>
<rect x="657" y="222" width="1" height="36" fill="#1e0707"/>
<rect x="656" y="227" width="3" height="12" fill="#1e0707"/>
<rect x="657" y="228" width="1" height="10" fill="#8a5a5f"/>
<rect x="661" y="194" width="1" height="44" fill="#06140f"/>
<rect x="660" y="216" width="3" height="23" fill="#06140f"/>
<rect x="661" y="217" width="1" height="21" fill="#587a72"/>
<rect x="666" y="199" width="1" height="34" fill="#1e0707"/>
<rect x="665" y="209" width="3" height="4" fill="#1e0707"/>
<rect x="666" y="210" width="1" height="2" fill="#8a5a5f"/>
<rect x="671" y="184" width="1" height="46" fill="#06140f"/>
<rect x="670" y="186" width="3" height="24" fill="#06140f"/>
<rect x="671" y="187" width="1" height="22" fill="#587a72"/>
<rect x="676" y="153" width="1" height="41" fill="#06140f"/>
<rect x="675" y="154" width="3" height="33" fill="#06140f"/>
<rect x="676" y="155" width="1" height="31" fill="#587a72"/>
<rect x="681" y="144" width="1" height="23" fill="#1e0707"/>
<rect x="680" y="154" width="3" height="14" fill="#1e0707"/>
<rect x="681" y="155" width="1" height="12" fill="#8a5a5f"/>
<rect x="686" y="157" width="1" height="31" fill="#1e0707"/>
<rect x="685" y="163" width="3" height="14" fill="#1e0707"/>
<rect x="686" y="164" width="1" height="12" fill="#8a5a5f"/>
<rect x="691" y="164" width="1" height="47" fill="#1e0707"/>
<rect x="690" y="177" width="3" height="34" fill="#1e0707"/>
<rect x="691" y="178" width="1" height="32" fill="#8a5a5f"/>
<rect x="696" y="205" width="1" height="24" fill="#1e0707"/>
<rect x="695" y="208" width="3" height="14" fill="#1e0707"/>
<rect x="696" y="209" width="1" height="12" fill="#8a5a5f"/>
<rect x="701" y="209" width="1" height="60" fill="#1e0707"/>
<rect x="700" y="220" width="3" height="46" fill="#1e0707"/>
<rect x="701" y="221" width="1" height="44" fill="#8a5a5f"/>
<rect x="706" y="234" width="1" height="35" fill="#1e0707"/>
<rect x="705" y="264" width="3" height="6" fill="#1e0707"/>
<rect x="706" y="265" width="1" height="4" fill="#8a5a5f"/>
<rect x="711" y="240" width="1" height="53" fill="#06140f"/>
<rect x="710" y="249" width="3" height="17" fill="#06140f"/>
<rect x="711" y="250" width="1" height="15" fill="#587a72"/>
<rect x="716" y="239" width="1" height="22" fill="#1e0707"/>
<rect x="715" y="254" width="3" height="3" fill="#1e0707"/>
<rect x="716" y="255" width="1" height="1" fill="#8a5a5f"/>
<rect x="721" y="245" width="1" height="29" fill="#1e0707"/>
<rect x="720" y="254" width="3" height="7" fill="#1e0707"/>
<rect x="721" y="255" width="1" height="5" fill="#8a5a5f"/>
<rect x="726" y="231" width="1" height="37" fill="#06140f"/>
<rect x="725" y="239" width="3" height="22" fill="#06140f"/>
<rect x="726" y="240" width="1" height="20" fill="#587a72"/>
<rect x="731" y="212" width="1" height="32" fill="#06140f"/>
<rect x="730" y="216" width="3" height="22" fill="#06140f"/>
<rect x="731" y="217" width="1" height="20" fill="#587a72"/>
<rect x="736" y="208" width="1" height="17" fill="#1e0707"/>
<rect x="735" y="216" width="3" height="7" fill="#1e0707"/>
<rect x="736" y="217" width="1" height="5" fill="#8a5a5f"/>
<rect x="741" y="216" width="1" height="27" fill="#1e0707"/>
<rect x="740" y="216" width="3" height="18" fill="#1e0707"/>
<rect x="741" y="217" width="1" height="16" fill="#8a5a5f"/>
<rect x="746" y="214" width="1" height="38" fill="#06140f"/>
<rect x="745" y="221" width="3" height="13" fill="#06140f"/>
<rect x="746" y="222" width="1" height="11" fill="#587a72"/>
<rect x="751" y="191" width="1" height="37" fill="#06140f"/>
<rect x="750" y="205" width="3" height="17" fill="#06140f"/>
<rect x="751" y="206" width="1" height="15" fill="#587a72"/>
<rect x="756" y="194" width="1" height="60" fill="#1e0707"/>
<rect x="755" y="207" width="3" height="42" fill="#1e0707"/>
<rect x="756" y="208" width="1" height="40" fill="#8a5a5f"/>
<rect x="761" y="232" width="1" height="24" fill="#06140f"/>
<rect x="760" y="245" width="3" height="2" fill="#06140f"/>
<rect x="766" y="230" width="1" height="23" fill="#06140f"/>
<rect x="765" y="245" width="3" height="2" fill="#06140f"/>
<rect x="771" y="239" width="1" height="29" fill="#1e0707"/>
<rect x="770" y="245" width="3" height="22" fill="#1e0707"/>
<rect x="771" y="246" width="1" height="20" fill="#8a5a5f"/>
<rect x="776" y="262" width="1" height="61" fill="#1e0707"/>
<rect x="775" y="263" width="3" height="56" fill="#1e0707"/>
<rect x="776" y="264" width="1" height="54" fill="#8a5a5f"/>
<rect x="781" y="310" width="1" height="17" fill="#06140f"/>
<rect x="780" y="321" width="3" height="1" fill="#06140f"/>
<rect x="786" y="279" width="1" height="56" fill="#06140f"/>
<rect x="785" y="286" width="3" height="37" fill="#06140f"/>
<rect x="786" y="287" width="1" height="35" fill="#587a72"/>
<rect x="791" y="275" width="1" height="26" fill="#1e0707"/>
<rect x="790" y="284" width="3" height="16" fill="#1e0707"/>
<rect x="791" y="285" width="1" height="14" fill="#8a5a5f"/>
<rect x="796" y="284" width="1" height="30" fill="#06140f"/>
<rect x="795" y="290" width="3" height="1" fill="#06140f"/>
<rect x="801" y="287" width="1" height="34" fill="#1e0707"/>
<rect x="800" y="290" width="3" height="3" fill="#1e0707"/>
<rect x="801" y="291" width="1" height="1" fill="#8a5a5f"/>
<rect x="806" y="267" width="1" height="32" fill="#06140f"/>
<rect x="805" y="273" width="3" height="27" fill="#06140f"/>
<rect x="806" y="274" width="1" height="25" fill="#587a72"/>
<rect x="811" y="258" width="1" height="17" fill="#06140f"/>
<rect x="810" y="263" width="3" height="13" fill="#06140f"/>
<rect x="811" y="264" width="1" height="11" fill="#587a72"/>
<rect x="816" y="250" width="1" height="19" fill="#06140f"/>
<rect x="815" y="259" width="3" height="10" fill="#06140f"/>
<rect x="816" y="260" width="1" height="8" fill="#587a72"/>
<rect x="821" y="255" width="1" height="52" fill="#1e0707"/>
<rect x="820" y="259" width="3" height="28" fill="#1e0707"/>
<rect x="821" y="260" width="1" height="26" fill="#8a5a5f"/>
<rect x="826" y="274" width="1" height="30" fill="#06140f"/>
<rect x="825" y="277" width="3" height="12" fill="#06140f"/>
<rect x="826" y="278" width="1" height="10" fill="#587a72"/>
<rect x="831" y="268" width="1" height="42" fill="#1e0707"/>
<rect x="830" y="279" width="3" height="22" fill="#1e0707"/>
<rect x="831" y="280" width="1" height="20" fill="#8a5a5f"/>
<rect x="836" y="248" width="1" height="56" fill="#06140f"/>
<rect x="835" y="266" width="3" height="39" fill="#06140f"/>
<rect x="836" y="267" width="1" height="37" fill="#587a72"/>
<rect x="841" y="228" width="1" height="46" fill="#06140f"/>
<rect x="840" y="231" width="3" height="36" fill="#06140f"/>
<rect x="841" y="232" width="1" height="34" fill="#587a72"/>
<rect x="846" y="217" width="1" height="26" fill="#1e0707"/>
<rect x="845" y="233" width="3" height="11" fill="#1e0707"/>
<rect x="846" y="234" width="1" height="9" fill="#8a5a5f"/>
<rect x="851" y="214" width="1" height="32" fill="#06140f"/>
<rect x="850" y="232" width="3" height="9" fill="#06140f"/>
<rect x="851" y="233" width="1" height="7" fill="#587a72"/>
<rect x="856" y="202" width="1" height="47" fill="#06140f"/>
<rect x="855" y="204" width="3" height="29" fill="#06140f"/>
<rect x="856" y="205" width="1" height="27" fill="#587a72"/>
<rect x="861" y="203" width="1" height="29" fill="#1e0707"/>
<rect x="860" y="208" width="3" height="12" fill="#1e0707"/>
<rect x="861" y="209" width="1" height="10" fill="#8a5a5f"/>
<rect x="866" y="206" width="1" height="19" fill="#06140f"/>
<rect x="865" y="209" width="3" height="15" fill="#06140f"/>
<rect x="866" y="210" width="1" height="13" fill="#587a72"/>
<rect x="871" y="194" width="1" height="26" fill="#06140f"/>
<rect x="870" y="196" width="3" height="15" fill="#06140f"/>
<rect x="871" y="197" width="1" height="13" fill="#587a72"/>
<rect x="876" y="182" width="1" height="44" fill="#1e0707"/>
<rect x="875" y="201" width="3" height="16" fill="#1e0707"/>
<rect x="876" y="202" width="1" height="14" fill="#8a5a5f"/>
<rect x="881" y="210" width="1" height="71" fill="#1e0707"/>
<rect x="880" y="215" width="3" height="60" fill="#1e0707"/>
<rect x="881" y="216" width="1" height="58" fill="#8a5a5f"/>
<rect x="886" y="267" width="1" height="28" fill="#1e0707"/>
<rect x="885" y="274" width="3" height="21" fill="#1e0707"/>
<rect x="886" y="275" width="1" height="19" fill="#8a5a5f"/>
<rect x="891" y="282" width="1" height="21" fill="#06140f"/>
<rect x="890" y="286" width="3" height="1" fill="#06140f"/>
<rect x="896" y="284" width="1" height="16" fill="#1e0707"/>
<rect x="895" y="288" width="3" height="4" fill="#1e0707"/>
<rect x="896" y="289" width="1" height="2" fill="#8a5a5f"/>
<rect x="901" y="286" width="1" height="42" fill="#1e0707"/>
<rect x="900" y="295" width="3" height="32" fill="#1e0707"/>
<rect x="901" y="296" width="1" height="30" fill="#8a5a5f"/>
<rect x="906" y="312" width="1" height="53" fill="#1e0707"/>
<rect x="905" y="325" width="3" height="36" fill="#1e0707"/>
<rect x="906" y="326" width="1" height="34" fill="#8a5a5f"/>
<rect x="911" y="352" width="1" height="16" fill="#06140f"/>
<rect x="910" y="353" width="3" height="5" fill="#06140f"/>
<rect x="911" y="354" width="1" height="3" fill="#587a72"/>
<rect x="916" y="338" width="1" height="19" fill="#06140f"/>
<rect x="915" y="352" width="3" height="3" fill="#06140f"/>
<rect x="916" y="353" width="1" height="1" fill="#587a72"/>
<rect x="921" y="329" width="1" height="25" fill="#06140f"/>
<rect x="920" y="340" width="3" height="11" fill="#06140f"/>
<rect x="921" y="341" width="1" height="9" fill="#587a72"/>
<rect x="925" y="312" width="1" height="33" fill="#06140f"/>
<rect x="924" y="322" width="3" height="13" fill="#06140f"/>
<rect x="925" y="323" width="1" height="11" fill="#587a72"/>
<rect x="930" y="303" width="1" height="30" fill="#06140f"/>
<rect x="929" y="322" width="3" height="1" fill="#06140f"/>
<rect x="935" y="306" width="1" height="20" fill="#06140f"/>
<rect x="934" y="312" width="3" height="12" fill="#06140f"/>
<rect x="935" y="313" width="1" height="10" fill="#587a72"/>
<rect x="940" y="302" width="1" height="24" fill="#06140f"/>
<rect x="939" y="303" width="3" height="20" fill="#06140f"/>
<rect x="940" y="304" width="1" height="18" fill="#587a72"/>
<rect x="945" y="304" width="1" height="35" fill="#1e0707"/>
<rect x="944" y="304" width="3" height="33" fill="#1e0707"/>
<rect x="945" y="305" width="1" height="31" fill="#8a5a5f"/>
<rect x="950" y="333" width="1" height="48" fill="#1e0707"/>
<rect x="949" y="335" width="3" height="11" fill="#1e0707"/>
<rect x="950" y="336" width="1" height="9" fill="#8a5a5f"/>
<rect x="955" y="330" width="1" height="53" fill="#1e0707"/>
<rect x="954" y="345" width="3" height="32" fill="#1e0707"/>
<rect x="955" y="346" width="1" height="30" fill="#8a5a5f"/>
<rect x="960" y="365" width="1" height="31" fill="#1e0707"/>
<rect x="959" y="372" width="3" height="23" fill="#1e0707"/>
<rect x="960" y="373" width="1" height="21" fill="#8a5a5f"/>
<rect x="965" y="375" width="1" height="19" fill="#1e0707"/>
<rect x="964" y="378" width="3" height="13" fill="#1e0707"/>
<rect x="965" y="379" width="1" height="11" fill="#8a5a5f"/>
<rect x="970" y="387" width="1" height="34" fill="#1e0707"/>
<rect x="969" y="389" width="3" height="10" fill="#1e0707"/>
<rect x="970" y="390" width="1" height="8" fill="#8a5a5f"/>
<rect x="975" y="385" width="1" height="19" fill="#06140f"/>
<rect x="974" y="391" width="3" height="7" fill="#06140f"/>
<rect x="975" y="392" width="1" height="5" fill="#587a72"/>
<rect x="980" y="367" width="1" height="33" fill="#06140f"/>
<rect x="979" y="391" width="3" height="1" fill="#06140f"/>
<rect x="985" y="377" width="1" height="23" fill="#06140f"/>
<rect x="984" y="391" width="3" height="1" fill="#06140f"/>
<rect x="990" y="369" width="1" height="25" fill="#06140f"/>
<rect x="989" y="376" width="3" height="13" fill="#06140f"/>
<rect x="990" y="377" width="1" height="11" fill="#587a72"/>
<rect x="995" y="370" width="1" height="31" fill="#06140f"/>
<rect x="994" y="379" width="3" height="1" fill="#06140f"/>
<rect x="1000" y="363" width="1" height="20" fill="#06140f"/>
<rect x="999" y="380" width="3" height="3" fill="#06140f"/>
<rect x="1000" y="381" width="1" height="1" fill="#587a72"/>
<rect x="1005" y="368" width="1" height="22" fill="#06140f"/>
<rect x="1004" y="370" width="3" height="11" fill="#06140f"/>
<rect x="1005" y="371" width="1" height="9" fill="#587a72"/>
<rect x="1010" y="350" width="1" height="30" fill="#06140f"/>
<rect x="1009" y="370" width="3" height="4" fill="#06140f"/>
<rect x="1010" y="371" width="1" height="2" fill="#587a72"/>
<rect x="1015" y="351" width="1" height="18" fill="#1e0707"/>
<rect x="1014" y="351" width="3" height="8" fill="#1e0707"/>
<rect x="1015" y="352" width="1" height="6" fill="#8a5a5f"/>
<rect x="1020" y="344" width="1" height="21" fill="#06140f"/>
<rect x="1019" y="347" width="3" height="12" fill="#06140f"/>
<rect x="1020" y="348" width="1" height="10" fill="#587a72"/>
</g>
<g stroke="#fff" stroke-width="5" stroke-linejoin="round" paint-order="stroke">
<path d="M67.9 583.9 H80 V598.8 H73.8 V589.8 H67.9 Z" fill="#131722"/>
<circle cx="85.1" cy="586.8" r="3" fill="#131722"/>
<path d="M91.8 583.9 H97.8 L91.2 598.8 H85 Z" fill="#131722"/>
</g>
<text x="104.8" y="598.8" font-size="20.3" font-weight="700" fill="#131722" textLength="121.6" lengthAdjust="spacing" stroke="#fff" stroke-width="5" paint-order="stroke" stroke-linejoin="round">TradingView</text>
<text x="104.8" y="598.8" font-size="20.3" font-weight="700" fill="#131722" textLength="121.6" lengthAdjust="spacing">TradingView</text>
<circle cx="1040.5" cy="599.9" r="9.9" fill="#fff" stroke="#d9424e" stroke-width="1.5"/>
<rect x="1046.0" y="597.5" width="2.2" height="1.6" fill="#e0505a"/><rect x="1046.0" y="601" width="2.2" height="1.6" fill="#e0505a"/>
<circle cx="1035.5" cy="599.9" r="9.9" fill="#fff" stroke="#d9424e" stroke-width="1.5"/>
<rect x="1041.0" y="597.5" width="2.2" height="1.6" fill="#e0505a"/><rect x="1041.0" y="601" width="2.2" height="1.6" fill="#e0505a"/>
<circle cx="1030.5" cy="599.9" r="9.9" fill="#fff" stroke="#d9424e" stroke-width="1.5"/>
<rect x="1036.0" y="597.5" width="2.2" height="1.6" fill="#e0505a"/><rect x="1036.0" y="601" width="2.2" height="1.6" fill="#e0505a"/>
<circle cx="1020.6" cy="599.9" r="9.9" fill="#fff" stroke="#7b3fa0" stroke-width="1.5"/>
<circle cx="1025.5" cy="599.9" r="9.9" fill="#fff" stroke="#d9424e" stroke-width="1.5"/>
<clipPath id="fl"><circle cx="1025.5" cy="599.9" r="7.6"/></clipPath>
<g clip-path="url(#fl)">
<rect x="1017" y="592" width="18" height="16" fill="#fff"/>
<rect x="1017" y="592.3" width="18" height="2.1" fill="#e04a52"/>
<rect x="1017" y="596.5" width="18" height="2.1" fill="#e04a52"/>
<rect x="1017" y="600.6999999999999" width="18" height="2.1" fill="#e04a52"/>
<rect x="1017" y="604.9" width="18" height="2.1" fill="#e04a52"/>
<rect x="1017" y="592" width="9" height="7.4" fill="#3d6fd6"/>
</g>
<path d="M72.9 49 H84 V66.5 H72.9 A8.75 8.75 0 0 1 72.9 49 Z" fill="#dcf1ec"/>
<path d="M84 49 H95 A8.75 8.75 0 0 1 95 66.5 H84 Z" fill="#fbe1ea"/>
<circle cx="75.2" cy="57.6" r="4.1" fill="#089981"/>
<text x="93.2" y="62.3" font-size="14" font-weight="700" fill="#e0507e" text-anchor="middle">≈</text>
<text x="112.2" y="63.1" font-size="12.6" font-weight="400" fill="#131722" textLength="347.6" lengthAdjust="spacing">O0.57687 H0.57874 L0.57589 C0.57838 +0.00148 (+0.26%)</text>
<text x="65.4" y="87.1" font-size="12.6" font-weight="400" fill="#131722" textLength="23.6" lengthAdjust="spacingAndGlyphs">EMA</text>
<text x="96.9" y="87.1" font-size="12.6" font-weight="400" fill="#4a6fb8" textLength="44.8" lengthAdjust="spacingAndGlyphs">0.58821</text>
<text x="65.4" y="110.4" font-size="12.6" font-weight="400" fill="#131722" textLength="23.6" lengthAdjust="spacingAndGlyphs">EMA</text>
<text x="96.9" y="110.4" font-size="12.6" font-weight="400" fill="#d65f6e" textLength="44.8" lengthAdjust="spacingAndGlyphs">0.58208</text>
<text x="65.4" y="134.9" font-size="12.6" font-weight="400" fill="#131722" textLength="58.4" lengthAdjust="spacing">Vol · Ticks</text>
<text x="132" y="134.9" font-size="12.6" font-weight="400" fill="#22a08f" textLength="41.6" lengthAdjust="spacing">41.16K</text>
<rect x="64.5" y="145.4" width="28" height="20.2" rx="3" fill="#fff" stroke="#dedede" stroke-width="1"/>
<path d="M74.8 157.4 L78.6 154 L82.4 157.4" fill="none" stroke="#131722" stroke-width="1.8" stroke-linecap="round" stroke-linejoin="round"/>
<text x="1223.8" y="81.69999999999999" font-size="11.5" font-weight="400" fill="#131722" textLength="41.7" lengthAdjust="spacing" text-anchor="end">0.61500</text>
<text x="1223.8" y="155.6" font-size="11.5" font-weight="400" fill="#131722" textLength="41.7" lengthAdjust="spacing" text-anchor="end">0.60500</text>
<text x="1223.8" y="229.4" font-size="11.5" font-weight="400" fill="#131722" textLength="41.7" lengthAdjust="spacing" text-anchor="end">0.59500</text>
<text x="1223.8" y="266.1" font-size="11.5" font-weight="400" fill="#131722" textLength="41.7" lengthAdjust="spacing" text-anchor="end">0.59000</text>
<text x="1223.8" y="375.6" font-size="11.5" font-weight="400" fill="#131722" textLength="41.7" lengthAdjust="spacing" text-anchor="end">0.57500</text>
<text x="1223.8" y="412.6" font-size="11.5" font-weight="400" fill="#131722" textLength="41.7" lengthAdjust="spacing" text-anchor="end">0.57000</text>
<text x="1223.8" y="449.6" font-size="11.5" font-weight="400" fill="#131722" textLength="41.7" lengthAdjust="spacing" text-anchor="end">0.56500</text>
<text x="1223.8" y="486.1" font-size="11.5" font-weight="400" fill="#131722" textLength="41.7" lengthAdjust="spacing" text-anchor="end">0.56000</text>
<text x="1223.8" y="522.8000000000001" font-size="11.5" font-weight="400" fill="#131722" textLength="41.7" lengthAdjust="spacing" text-anchor="end">0.55500</text>
<text x="1223.8" y="559.6" font-size="11.5" font-weight="400" fill="#131722" textLength="41.7" lengthAdjust="spacing" text-anchor="end">0.55000</text>
<rect x="1174.3" y="106" width="55.5" height="16.599999999999994" rx="2" fill="#2962ff"/><text x="1202.4" y="118.39999999999999" font-size="11.5" font-weight="700" fill="#fff" textLength="41.7" lengthAdjust="spacing" text-anchor="middle">0.61000</text>
<rect x="1174.3" y="180" width="55.5" height="16.599999999999994" rx="2" fill="#2962ff"/><text x="1202.4" y="192.4" font-size="11.5" font-weight="700" fill="#fff" textLength="41.7" lengthAdjust="spacing" text-anchor="middle">0.60000</text>
<rect x="1174.3" y="266.4" width="55.5" height="16.0" rx="2" fill="#2962ff"/><text x="1202.4" y="278.5" font-size="11.5" font-weight="700" fill="#fff" textLength="41.7" lengthAdjust="spacing" text-anchor="middle">0.58821</text>
<rect x="1174.3" y="288.6" width="55.5" height="16.399999999999977" rx="2" fill="#2962ff"/><text x="1202.4" y="300.90000000000003" font-size="11.5" font-weight="700" fill="#fff" textLength="41.7" lengthAdjust="spacing" text-anchor="middle">0.58500</text>
<rect x="1174.3" y="305" width="55.5" height="17" rx="2" fill="#f23645"/><text x="1202.4" y="317.6" font-size="11.5" font-weight="700" fill="#fff" textLength="41.7" lengthAdjust="spacing" text-anchor="middle">0.58208</text>
<rect x="1174.3" y="322.2" width="55.5" height="16.0" rx="2" fill="#2962ff"/><text x="1202.4" y="334.3" font-size="11.5" font-weight="700" fill="#fff" textLength="41.7" lengthAdjust="spacing" text-anchor="middle">0.58000</text>
<rect x="1174.3" y="339.2" width="59.5" height="30.5" rx="2" fill="#089981"/>
<text x="1181.8" y="352.1" font-size="12" font-weight="700" fill="#fff" textLength="41.8" lengthAdjust="spacingAndGlyphs">0.57838</text>
<text x="1182" y="366.5" font-size="12" font-weight="700" fill="#fff"></text>
<text x="1181.8" y="365.4" font-size="12" font-weight="700" fill="#fff" textLength="47.5" lengthAdjust="spacingAndGlyphs">05:43:50</text>
<rect x="1122" y="339.3" width="51" height="16.4" rx="2" fill="#089981"/>
<text x="1147.5" y="351.8" font-size="12" font-weight="700" fill="#fff" textLength="43" lengthAdjust="spacingAndGlyphs" text-anchor="middle">NZDUSD</text>
<rect x="1174.3" y="587.4" width="51.3" height="16.3" rx="2" fill="#22ab94"/>
<text x="1200" y="599.8" font-size="12" font-weight="700" fill="#fff" textLength="37" lengthAdjust="spacingAndGlyphs" text-anchor="middle">41.16K</text>
<text x="69.0" y="631.3" font-size="12" font-weight="400" fill="#131722" textLength="20.6" lengthAdjust="spacingAndGlyphs" text-anchor="middle" stroke="#131722" stroke-width="0.45">Feb</text>
<text x="169.0" y="631.3" font-size="12" font-weight="400" fill="#131722" textLength="20.6" lengthAdjust="spacingAndGlyphs" text-anchor="middle" stroke="#131722" stroke-width="0.45">Mar</text>
<text x="273.0" y="631.3" font-size="12" font-weight="400" fill="#131722" textLength="19.7" lengthAdjust="spacing" text-anchor="middle" stroke="#131722" stroke-width="0.45">Apr</text>
<text x="383.0" y="631.3" font-size="12" font-weight="400" fill="#131722" textLength="21.4" lengthAdjust="spacingAndGlyphs" text-anchor="middle" stroke="#131722" stroke-width="0.45">May</text>
<text x="492.0" y="631.3" font-size="12" font-weight="400" fill="#131722" textLength="20.2" lengthAdjust="spacing" text-anchor="middle" stroke="#131722" stroke-width="0.45">Jun</text>
<text x="597.0" y="631.3" font-size="12" font-weight="400" fill="#131722" textLength="16.6" lengthAdjust="spacing" text-anchor="middle" stroke="#131722" stroke-width="0.45">Jul</text>
<text x="711.0" y="631.3" font-size="12" font-weight="400" fill="#131722" textLength="20.6" lengthAdjust="spacingAndGlyphs" text-anchor="middle" stroke="#131722" stroke-width="0.45">Aug</text>
<text x="816.0" y="631.3" font-size="12" font-weight="400" fill="#131722" textLength="20.6" lengthAdjust="spacingAndGlyphs" text-anchor="middle" stroke="#131722" stroke-width="0.45">Sep</text>
<text x="925.0" y="631.3" font-size="12" font-weight="400" fill="#131722" textLength="20.2" lengthAdjust="spacing" text-anchor="middle" stroke="#131722" stroke-width="0.45">Oct</text>
<text x="1040.0" y="631.3" font-size="12" font-weight="400" fill="#131722" textLength="21" lengthAdjust="spacingAndGlyphs" text-anchor="middle" stroke="#131722" stroke-width="0.45">Nov</text>
<text x="1140.0" y="631.3" font-size="12" font-weight="400" fill="#131722" textLength="21" lengthAdjust="spacingAndGlyphs" text-anchor="middle" stroke="#131722" stroke-width="0.45">Dec</text>
<path d="M1199.8 627.8 L1203.1 622.2 H1209.8 L1213.1 627.8 L1209.8 633.4 H1203.1 Z" fill="none" stroke="#131722" stroke-width="1.2" stroke-linejoin="round"/>
<circle cx="1206.45" cy="627.8" r="2.3" fill="none" stroke="#131722" stroke-width="1.2"/>
<rect x="56" y="641" width="1183" height="1" fill="#e8e8e8"/>
<text x="70.30000000000001" y="666.4" font-size="13" font-weight="400" fill="#131722" textLength="16.6" lengthAdjust="spacingAndGlyphs">1D</text>
<text x="97.4" y="666.4" font-size="13" font-weight="400" fill="#131722" textLength="16" lengthAdjust="spacingAndGlyphs">5D</text>
<text x="125.9" y="666.4" font-size="13" font-weight="400" fill="#131722" textLength="18.1" lengthAdjust="spacing">1M</text>
<text x="154.9" y="666.4" font-size="13" font-weight="400" fill="#131722" textLength="18.0" lengthAdjust="spacingAndGlyphs">3M</text>
<text x="184.0" y="666.4" font-size="13" font-weight="400" fill="#131722" textLength="18.4" lengthAdjust="spacing">6M</text>
<text x="212.9" y="666.4" font-size="13" font-weight="400" fill="#131722" textLength="26.0" lengthAdjust="spacing">YTD</text>
<text x="249.4" y="666.4" font-size="13" font-weight="400" fill="#131722" textLength="16" lengthAdjust="spacing">1Y</text>
<text x="277.4" y="666.4" font-size="13" font-weight="400" fill="#131722" textLength="16" lengthAdjust="spacing">5Y</text>
<text x="304.2" y="666.4" font-size="13" font-weight="400" fill="#131722" textLength="17.2" lengthAdjust="spacing">All</text>
<rect x="332" y="650" width="1" height="22" fill="#e6e6e6"/>
<path d="M347 658 V654.6 a1.6 1.6 0 0 1 1.6 -1.6 H363 a1.6 1.6 0 0 1 1.6 1.6 V667.4 a1.6 1.6 0 0 1 -1.6 1.6 H357 M347 657.2 H364.6 M351.5 650.5 V654.5 M360 650.5 V654.5 M346.4 665 H353.5 M351 662.3 L353.7 665 L351 667.7" fill="none" stroke="#131722" stroke-width="1.3" stroke-linecap="round" stroke-linejoin="round"/>
<text x="1228.8" y="666.6" font-size="13" font-weight="400" fill="#131722" textLength="83" lengthAdjust="spacing" text-anchor="end">15:16:10 UTC</text>
<path d="M1105.3 653.8 L1105.3 668.8 L1108.6 665.8 L1111.2 671.5 L1113.6 670.4 L1111 664.9 L1115.8 664.6 Z" fill="#fff" stroke="#222" stroke-width="1" stroke-linejoin="round"/>
<text x="71.6" y="708.4" font-size="13.5" font-weight="400" fill="#131722" textLength="68.2" lengthAdjust="spacing">Pine Editor</text>
<text x="172.4" y="708.4" font-size="13.5" font-weight="400" fill="#131722" textLength="83.7" lengthAdjust="spacing">Trading Panel</text>
<path d="M1176.5 705.7 L1184.6 698.6 L1192.7 705.7" fill="none" stroke="#131722" stroke-width="1.3" stroke-linecap="round" stroke-linejoin="round"/>
<path d="M1212 699.5 V698.3 a2 2 0 0 1 2 -2 H1225.6 a2 2 0 0 1 2 2 V699.5 M1227.6 706.9 V708.1 a2 2 0 0 1 -2 2 H1214 a2 2 0 0 1 -2 -2 V706.9" fill="none" stroke="#131722" stroke-width="1.3" stroke-linecap="round" stroke-linejoin="round"/>
<circle cx="26" cy="19" r="13" fill="#a67c66"/>
<text x="26" y="25.3" font-size="17" font-weight="400" fill="#fff" text-anchor="middle">T</text>
<circle cx="41" cy="10.5" r="9.5" fill="#fff"/>
<circle cx="41" cy="10.5" r="8.3" fill="#e5404b"/>
<text x="41" y="14" font-size="9.5" font-weight="700" fill="#fff" text-anchor="middle">11</text>
<circle cx="69.8" cy="18.8" r="5.3" fill="none" stroke="#131722" stroke-width="1.4" stroke-linecap="round" stroke-linejoin="round"/>
<path d="M73.6 22.6 L77.6 26.2" fill="none" stroke="#131722" stroke-width="1.4" stroke-linecap="round" stroke-linejoin="round"/>
<text x="84.5" y="23.9" font-size="13.2" font-weight="700" fill="#131722" textLength="51.5" lengthAdjust="spacingAndGlyphs">NZDUSD</text>
<circle cx="170.5" cy="19.3" r="9.2" fill="none" stroke="#131722" stroke-width="1.4" stroke-linecap="round" stroke-linejoin="round" stroke-width="1.3"/>
<path d="M170.5 14.3 V24.3 M165.5 19.3 H175.5" fill="none" stroke="#131722" stroke-width="1.4" stroke-linecap="round" stroke-linejoin="round"/>
<rect x="194" y="8.5" width="1" height="21.0" fill="#e6e6e6"/>
<text x="213.2" y="23.4" font-size="13" font-weight="400" fill="#131722" textLength="8.6" lengthAdjust="spacingAndGlyphs" stroke="#131722" stroke-width="0.35">D</text>
<rect x="240" y="8.5" width="1" height="21.0" fill="#e6e6e6"/>
<path d="M260 9 V29 M269 11.5 V26.5" fill="none" stroke="#131722" stroke-width="1.4" stroke-linecap="round" stroke-linejoin="round"/>
<rect x="257.8" y="13.2" width="4.4" height="11.6" rx="0.8" fill="#fff" stroke="#131722" stroke-width="1.4"/>
<rect x="266.8" y="15.8" width="4.4" height="7.4" rx="0.8" fill="#fff" stroke="#131722" stroke-width="1.4"/>
<rect x="287" y="8.5" width="1" height="21.0" fill="#e6e6e6"/>
<path d="M303 17 L309 12 L313 15.5 L320 10" fill="none" stroke="#131722" stroke-width="1.4" stroke-linecap="round" stroke-linejoin="round"/>
<path d="M303.2 27.2 V23.2 H307.6 V27.2 Z M307.6 27.2 V20.2 H312 V27.2 M312 27.2 V17.5 H316.4 V27.2 M302.8 27.2 H320.2" fill="none" stroke="#131722" stroke-width="1.4" stroke-linecap="round" stroke-linejoin="round" stroke-width="1.3"/>
<text x="329.5" y="24.2" font-size="14" font-weight="400" fill="#131722" textLength="61.3" lengthAdjust="spacing">Indicators</text>
<path d="M409.3 17.2 L413 20.6 L416.7 17.2" fill="none" stroke="#131722" stroke-width="1.4" stroke-linecap="round" stroke-linejoin="round" stroke-width="1.3"/>
<rect x="436.4" y="11.7" width="6.2" height="6" rx="2" fill="none" stroke="#131722" stroke-width="1.3"/>
<rect x="436.4" y="20.7" width="6.2" height="6" rx="2" fill="none" stroke="#131722" stroke-width="1.3"/>
<rect x="445.4" y="11.7" width="6.2" height="6" rx="2" fill="none" stroke="#131722" stroke-width="1.3"/>
<rect x="445.4" y="20.7" width="6.2" height="6" rx="2" fill="none" stroke="#131722" stroke-width="1.3"/>
<rect x="467" y="8.5" width="1" height="21.0" fill="#e6e6e6"/>
<path d="M497.5 22 A9 9 0 1 0 488.5 28" fill="none" stroke="#131722" stroke-width="1.4" stroke-linecap="round" stroke-linejoin="round"/>
<path d="M490 14.5 V19.8 H486" fill="none" stroke="#131722" stroke-width="1.4" stroke-linecap="round" stroke-linejoin="round"/>
<path d="M481.3 12.3 L484.3 9.5 M497 9.5 L500 12.3" fill="none" stroke="#131722" stroke-width="1.4" stroke-linecap="round" stroke-linejoin="round"/>
<path d="M497 22.5 V29.3 M493.6 25.9 H500.4" fill="none" stroke="#131722" stroke-width="1.4" stroke-linecap="round" stroke-linejoin="round"/>
<text x="509" y="24.2" font-size="14" font-weight="400" fill="#131722" textLength="30.8" lengthAdjust="spacing">Alert</text>
<path d="M569.5 15.2 L563 19.8 L569.5 24.4 Z M577 15.2 L570.5 19.8 L577 24.4 Z" fill="none" stroke="#131722" stroke-width="1.4" stroke-linecap="round" stroke-linejoin="round" stroke-width="1.3"/>
<text x="587.4" y="24.2" font-size="14" font-weight="400" fill="#131722" textLength="40.6" lengthAdjust="spacingAndGlyphs">Replay</text>
<rect x="642" y="8.5" width="1" height="21.0" fill="#e6e6e6"/>
<path d="M672 23.8 C672 18.5 668.5 16.8 664.5 16.8 H659.5 M663 13.3 L659.5 16.8 L663 20.3" fill="none" stroke="#131722" stroke-width="1.4" stroke-linecap="round" stroke-linejoin="round" stroke-width="1.3"/>
<path d="M697 23.8 C697 18.5 700.5 16.8 704.5 16.8 H709.5 M706 13.3 L709.5 16.8 L706 20.3" fill="none" stroke="#b8bcc4" stroke-width="1.3" stroke-linecap="round" stroke-linejoin="round"/>
<rect x="927.7" y="11.7" width="17.6" height="16" rx="3" fill="none" stroke="#131722" stroke-width="1.4"/>
<text x="960.6" y="19.3" font-size="13.5" font-weight="400" fill="#131722" textLength="58.5" lengthAdjust="spacingAndGlyphs">Unnamed</text>
<text x="980" y="30.3" font-size="9.6" font-weight="400" fill="#3a64b0" textLength="20.2" lengthAdjust="spacingAndGlyphs">Save</text>
<path d="M1033.3 17.3 L1037 20.7 L1040.7 17.3" fill="none" stroke="#131722" stroke-width="1.4" stroke-linecap="round" stroke-linejoin="round" stroke-width="1.3"/>
<rect x="1053" y="8.5" width="1" height="21.0" fill="#e6e6e6"/>
<path d="M1080.5 13.2 A7.6 7.6 0 1 0 1082.4 24.2" fill="none" stroke="#131722" stroke-width="1.4" stroke-linecap="round" stroke-linejoin="round"/>
<path d="M1082.5 24.6 L1086.5 28.6" fill="none" stroke="#131722" stroke-width="1.4" stroke-linecap="round" stroke-linejoin="round"/>
<path d="M1080.8 8.5 L1075.8 16.6 H1079.8 L1078.3 22.5 L1083.6 14.2 H1079.7 Z" fill="none" stroke="#131722" stroke-width="1.4" stroke-linecap="round" stroke-linejoin="round" stroke-width="1.2"/>
<path d="M1110 10.5 H1120 L1125 19 L1120 27.5 H1110 L1105 19 Z" fill="none" stroke="#131722" stroke-width="1.4" stroke-linecap="round" stroke-linejoin="round"/>
<circle cx="1115" cy="19" r="3.3" fill="none" stroke="#131722" stroke-width="1.4" stroke-linecap="round" stroke-linejoin="round"/>
<path d="M1145.5 15.5 V13 a1.8 1.8 0 0 1 1.8 -1.8 H1149.5 M1156.5 11.2 H1158.7 a1.8 1.8 0 0 1 1.8 1.8 V15.5 M1160.5 22 V24.2 a1.8 1.8 0 0 1 -1.8 1.8 H1156.5 M1149.5 26 H1147.3 a1.8 1.8 0 0 1 -1.8 -1.8 V22" fill="none" stroke="#131722" stroke-width="1.4" stroke-linecap="round" stroke-linejoin="round"/>
<path d="M1180.7 14.2 a1.5 1.5 0 0 1 1.5 -1.5 H1185 L1187 10.8 H1193.7 L1195.7 12.7 H1198.6 a1.5 1.5 0 0 1 1.5 1.5 V24.6 a1.5 1.5 0 0 1 -1.5 1.5 H1182.2 a1.5 1.5 0 0 1 -1.5 -1.5 Z" fill="none" stroke="#131722" stroke-width="1.4" stroke-linecap="round" stroke-linejoin="round"/>
<circle cx="1190.4" cy="19.3" r="3.6" fill="none" stroke="#131722" stroke-width="1.4" stroke-linecap="round" stroke-linejoin="round"/>
<rect x="1214.2" y="5.4" width="68.8" height="27.2" rx="13.6" fill="#232323"/>
<text x="1226.6" y="23.9" font-size="13.5" font-weight="400" fill="#fff" textLength="44" lengthAdjust="spacingAndGlyphs" stroke="#fff" stroke-width="0.45">Publish</text>
<rect x="9.2" y="50.2" width="33.4" height="33.7" rx="6" fill="#ebebeb"/>
<path d="M19.4 59.8 L19.4 72 L22.7 68.9 L26 75 L29.3 73.6 L26.4 68.1 L30.4 67.5 Z" fill="none" stroke="#131722" stroke-width="1.3" stroke-linecap="round" stroke-linejoin="round"/>
<path d="M16.2 105.5 H24.2 M28.6 105.5 H36.9" fill="none" stroke="#131722" stroke-width="1.3" stroke-linecap="round" stroke-linejoin="round"/>
<circle cx="26.4" cy="105.5" r="2.2" fill="none" stroke="#131722" stroke-width="1.3" stroke-linecap="round" stroke-linejoin="round"/>
<path d="M15.2 133.5 H36.9 M15.2 139.5 H34 M15.2 145.4 H36.9 M17.8 151.4 H36.9" fill="none" stroke="#131722" stroke-width="1.3" stroke-linecap="round" stroke-linejoin="round"/>
<circle cx="36.3" cy="139.5" r="2.2" fill="#fff" stroke="#131722" stroke-width="1.3"/>
<circle cx="15.6" cy="151.4" r="2.2" fill="#fff" stroke="#131722" stroke-width="1.3"/>
<path d="M20.5 172 L17.5 189.3" fill="none" stroke="#131722" stroke-width="1.3" stroke-linecap="round" stroke-linejoin="round" stroke-width="1.2"/>
<path d="M20.5 172 L24.5 179.3" fill="none" stroke="#131722" stroke-width="1.3" stroke-linecap="round" stroke-linejoin="round" stroke-width="1.2"/>
<path d="M24.5 179.3 L32.4 173.6" fill="none" stroke="#131722" stroke-width="1.3" stroke-linecap="round" stroke-linejoin="round" stroke-width="1.2"/>
<path d="M32.4 173.6 L35.4 186.5" fill="none" stroke="#131722" stroke-width="1.3" stroke-linecap="round" stroke-linejoin="round" stroke-width="1.2"/>
<path d="M24.5 179.3 L35.4 186.5" fill="none" stroke="#131722" stroke-width="1.3" stroke-linecap="round" stroke-linejoin="round" stroke-width="1.2"/>
<path d="M24.5 179.3 L17.5 189.3" fill="none" stroke="#131722" stroke-width="1.3" stroke-linecap="round" stroke-linejoin="round" stroke-width="1.2"/>
<circle cx="20.5" cy="172" r="2" fill="#fff" stroke="#131722" stroke-width="1.2"/>
<circle cx="32.4" cy="173.6" r="2" fill="#fff" stroke="#131722" stroke-width="1.2"/>
<circle cx="24.5" cy="179.3" r="2" fill="#fff" stroke="#131722" stroke-width="1.2"/>
<circle cx="35.4" cy="186.5" r="2" fill="#fff" stroke="#131722" stroke-width="1.2"/>
<circle cx="17.5" cy="189.3" r="2" fill="#fff" stroke="#131722" stroke-width="1.2"/>
<path d="M18.7 211.5 H35.9 M18.7 221.4 H32.2 M18.7 227.2 H35.9" fill="none" stroke="#131722" stroke-width="1.3" stroke-linecap="round" stroke-linejoin="round"/>
<path d="M21 219.2 L34.6 212.8" fill="none" stroke="#131722" stroke-width="1.2" stroke-dasharray="1 2.6"/>
<circle cx="16.5" cy="211.5" r="2.1" fill="#fff" stroke="#131722" stroke-width="1.3"/>
<circle cx="16.5" cy="221.4" r="2.1" fill="#fff" stroke="#131722" stroke-width="1.3"/>
<circle cx="34.4" cy="221.4" r="2.1" fill="#fff" stroke="#131722" stroke-width="1.3"/>
<circle cx="16.5" cy="227.2" r="2.1" fill="#fff" stroke="#131722" stroke-width="1.3"/>
<path d="M15 265.3 H25 C29 265.3 31 261 29.4 258 C28 255.2 25 254 23 255.5 C19 258.5 17 262.5 15 265.3 Z" fill="none" stroke="#131722" stroke-width="1.3" stroke-linecap="round" stroke-linejoin="round"/>
<path d="M29.6 250 C29 253 30.5 255.6 32.5 255.3 C34.3 255 37 252 39.4 249.4" fill="none" stroke="#131722" stroke-width="1.3" stroke-linecap="round" stroke-linejoin="round"/>
<path d="M19.4 289.8 V286.6 H33.6 V289.8 M26.5 286.6 V303.5 M24 303.5 H29" fill="none" stroke="#131722" stroke-width="1.2"/>
<circle cx="26" cy="332.8" r="10.8" fill="none" stroke="#131722" stroke-width="1.3" stroke-linecap="round" stroke-linejoin="round"/>
<circle cx="23.4" cy="330.6" r="0.9" fill="#131722"/><circle cx="28.6" cy="330.6" r="0.9" fill="#131722"/>
<path d="M23 335 Q26 338.6 29.1 335" fill="none" stroke="#131722" stroke-width="1.3" stroke-linecap="round" stroke-linejoin="round"/>
<rect x="8" y="358" width="36" height="1" fill="#e6e6e6"/>
<path d="M14.5 389.9 L32.4 372.5 L37.7 377.4 L19.6 395.3 Z" fill="none" stroke="#131722" stroke-width="1.3" stroke-linecap="round" stroke-linejoin="round"/>
<path d="M18.3 386.3 L20 388 M21.8 383 L23.5 384.7 M25.3 379.6 L27 381.3 M28.8 376.2 L30.5 377.9" fill="none" stroke="#131722" stroke-width="1.3" stroke-linecap="round" stroke-linejoin="round" stroke-width="1.1"/>
<circle cx="24.2" cy="420.3" r="7.8" fill="none" stroke="#131722" stroke-width="1.3" stroke-linecap="round" stroke-linejoin="round"/>
<path d="M24.2 416.5 V424.1 M20.4 420.3 H28 M29.9 426.1 L34 430" fill="none" stroke="#131722" stroke-width="1.3" stroke-linecap="round" stroke-linejoin="round"/>
<rect x="8" y="446.5" width="36" height="1" fill="#e6e6e6"/>
<path d="M18.5 481.4 V471 A7.6 7.6 0 0 1 33.7 471 V481.4 H28.4 V471 A2.4 2.4 0 0 0 23.6 471 V481.4 Z M18.5 477.3 H23.6 M28.4 477.3 H33.7" fill="none" stroke="#131722" stroke-width="1.3" stroke-linecap="round" stroke-linejoin="round"/>
<path d="M15.5 515.8 L15.8 511.2 L26.5 500.5 A2.1 2.1 0 0 1 29.6 503.6 L18.9 514.3 Z M15.8 511.2 L18.9 514.3" fill="none" stroke="#131722" stroke-width="1.3" stroke-linecap="round" stroke-linejoin="round" stroke-width="1.2"/>
<rect x="27.5" y="515.6" width="8.2" height="5.8" rx="1" fill="#fff" stroke="#131722" stroke-width="1.2"/>
<path d="M29.4 515.5 V512.8 A2 2 0 0 1 33.4 512.4" fill="none" stroke="#131722" stroke-width="1.3" stroke-linecap="round" stroke-linejoin="round" stroke-width="1.2"/>
<rect x="31" y="517.6" width="1.3" height="1.8" fill="#131722"/>
<rect x="18.5" y="548" width="15.2" height="10.4" rx="1.6" fill="none" stroke="#131722" stroke-width="1.3" stroke-linecap="round" stroke-linejoin="round"/>
<path d="M22.5 548 V543.5 A3.5 3.5 0 0 1 29.4 542.8" fill="none" stroke="#131722" stroke-width="1.3" stroke-linecap="round" stroke-linejoin="round"/>
<rect x="25.3" y="551.3" width="1.6" height="3.2" fill="#131722"/>
<path d="M16 582.7 C19.5 576 30.5 576 34.3 582.7 C30.5 589.4 19.5 589.4 16 582.7 Z" fill="none" stroke="#131722" stroke-width="1.3" stroke-linecap="round" stroke-linejoin="round"/>
<circle cx="25.1" cy="582.8" r="3.3" fill="none" stroke="#131722" stroke-width="1.3" stroke-linecap="round" stroke-linejoin="round"/>
<path d="M26.2 597.6 H30.5 C32.5 597.6 33.2 595.2 32 593.8 C31 592.8 29.5 593 28.6 594 Z M33.5 593.5 C34.2 594.2 35.6 593 37 591" fill="none" stroke="#131722" stroke-width="1.3" stroke-linecap="round" stroke-linejoin="round" stroke-width="1.1"/>
<rect x="8" y="612" width="36" height="1" fill="#e6e6e6"/>
<path d="M17.1 631.6 H34.8 M22.5 631.6 V629.6 A1.4 1.4 0 0 1 23.9 628.2 H28.3 A1.4 1.4 0 0 1 29.7 629.6 V631.6 M19.4 632 L20.6 647.3 H31.2 L32.8 632" fill="none" stroke="#131722" stroke-width="1.3" stroke-linecap="round" stroke-linejoin="round"/>
<path d="M1256.5 77.4 V55.5 H1275.7 V77.4 L1266 73.3 Z M1260.2 60.4 H1271.7 M1260.2 64.4 H1271.7 M1260.2 68.5 H1271.7" fill="none" stroke="#131722" stroke-width="1.3" stroke-linecap="round" stroke-linejoin="round"/>
<circle cx="1265.8" cy="112.2" r="10.3" fill="none" stroke="#131722" stroke-width="1.3" stroke-linecap="round" stroke-linejoin="round"/>
<path d="M1266 106.2 V113.4 H1261.5 M1253.3 104.5 L1259 99.6 M1273.1 99.6 L1278.8 104.5" fill="none" stroke="#131722" stroke-width="1.3" stroke-linecap="round" stroke-linejoin="round"/>
<path d="M1254.3 154.5 L1265.7 148.3 L1277 154.5 L1265.7 160.8 Z M1254.3 160.6 L1265.7 166.7 L1277 160.6" fill="none" stroke="#131722" stroke-width="1.3" stroke-linecap="round" stroke-linejoin="round"/>
<path d="M1270.6 201.6 H1275.2 A2.3 2.3 0 0 1 1277.5 203.9 V216.5 L1273.8 212.6 H1265.5 A2.3 2.3 0 0 1 1263.2 210.3 V208.2" fill="none" stroke="#131722" stroke-width="1.3" stroke-linecap="round" stroke-linejoin="round"/>
<path d="M1256.6 193.8 H1271.2 A2.3 2.3 0 0 1 1273.5 196.1 V205.8 A2.3 2.3 0 0 1 1271.2 208.1 H1258.3 L1254.3 213 V196.1 A2.3 2.3 0 0 1 1256.6 193.8 Z" fill="#fff" stroke="#131722" stroke-width="1.3" stroke-linejoin="round"/>
<circle cx="1266" cy="502.6" r="13.2" fill="none" stroke="#131722" stroke-width="1.3" stroke-linecap="round" stroke-linejoin="round"/>
<circle cx="1266" cy="502.6" r="7.2" fill="none" stroke="#131722" stroke-width="1.3" stroke-linecap="round" stroke-linejoin="round"/>
<circle cx="1266" cy="502.6" r="1.9" fill="#131722"/>
<path d="M1266 502.6 L1276 493.4" fill="none" stroke="#131722" stroke-width="1.3" stroke-linecap="round" stroke-linejoin="round"/>
<rect x="1254.4" y="539.8" width="23.1" height="20.9" rx="2.5" fill="none" stroke="#131722" stroke-width="1.3" stroke-linecap="round" stroke-linejoin="round"/>
<path d="M1254.4 546.4 H1277.5" fill="none" stroke="#131722" stroke-width="1.3" stroke-linecap="round" stroke-linejoin="round"/>
<rect x="1258.5" y="537" width="2.6" height="5" rx="1" fill="#fff" stroke="#131722" stroke-width="1.2"/>
<rect x="1270.9" y="537" width="2.6" height="5" rx="1" fill="#fff" stroke="#131722" stroke-width="1.2"/>
<circle cx="1266.1" cy="594.2" r="16.8" fill="#232323"/>
<rect x="1257.6" y="586.0" width="4.4" height="4.4" rx="0.6" fill="#fff"/>
<rect x="1257.6" y="592.6" width="4.4" height="4.4" rx="0.6" fill="#fff"/>
<rect x="1257.6" y="599.2" width="4.4" height="4.4" rx="0.6" fill="#fff"/>
<rect x="1264.1999999999998" y="586.0" width="4.4" height="4.4" rx="0.6" fill="#fff"/>
<rect x="1264.1999999999998" y="592.6" width="4.4" height="4.4" rx="0.6" fill="#fff"/>
<rect x="1264.1999999999998" y="599.2" width="4.4" height="4.4" rx="0.6" fill="#fff"/>
<rect x="1270.8" y="586.0" width="4.4" height="4.4" rx="0.6" fill="#fff"/>
<rect x="1270.8" y="592.6" width="4.4" height="4.4" rx="0.6" fill="#fff"/>
<rect x="1270.8" y="599.2" width="4.4" height="4.4" rx="0.6" fill="#fff"/>
<rect x="1249.5" y="623" width="32.5" height="1" fill="#e6e6e6"/>
<circle cx="1257.2" cy="659.6" r="1.7" fill="none" stroke="#131722" stroke-width="1.3" stroke-linecap="round" stroke-linejoin="round" stroke-width="1.2"/>
<path d="M1254.5 650.5 A9.5 9.5 0 0 1 1266.3 662.3 M1254.5 644.6 A15.4 15.4 0 0 1 1272.2 662.3 M1254.5 638.7 A21.3 21.3 0 0 1 1278 662.3" fill="none" stroke="#131722" stroke-width="1.3" stroke-linecap="round" stroke-linejoin="round" stroke-width="1.2"/>
<circle cx="1275.6" cy="641.6" r="9" fill="#fff"/>
<circle cx="1275.6" cy="641.6" r="8" fill="#e5404b"/>
<text x="1275.6" y="646" font-size="12" font-weight="700" fill="#fff" text-anchor="middle">2</text>
<path d="M1275.8 689.2 A13.6 13.6 0 0 1 1279.3 701 M1276.6 708.7 A13.6 13.6 0 0 1 1254.6 706.3 M1253.1 696 A13.6 13.6 0 0 1 1271.5 685.6" fill="none" stroke="#131722" stroke-width="1.3" stroke-linecap="round" stroke-linejoin="round" stroke-width="1.2"/>
<path d="M1262.4 694.5 A3.8 3.8 0 1 1 1267.5 698 C1266.3 698.6 1266 699.6 1266 701" fill="none" stroke="#131722" stroke-width="1.3" stroke-linecap="round" stroke-linejoin="round" stroke-width="1.2"/>
<circle cx="1266" cy="704.6" r="1.2" fill="none" stroke="#131722" stroke-width="1.3" stroke-linecap="round" stroke-linejoin="round" stroke-width="1"/>
<path d="M1276.6 683.2 L1278 686.5 L1281.3 687.9 L1278 689.3 L1276.6 692.6 L1275.2 689.3 L1271.9 687.9 L1275.2 686.5 Z" fill="none" stroke="#131722" stroke-width="1.3" stroke-linecap="round" stroke-linejoin="round" stroke-width="1.1"/>
<path d="M1253.5 701 L1254.6 703.6 L1257.2 704.7 L1254.6 705.8 L1253.5 708.4 L1252.4 705.8 L1249.8 704.7 L1252.4 703.6 Z" fill="none" stroke="#131722" stroke-width="1.3" stroke-linecap="round" stroke-linejoin="round" stroke-width="1.1"/>
<path d="M0 716 Q0 722 6 722 H0 Z" fill="#5a0a0a"/>
<path d="M1288 716 Q1288 722 1282 722 H1288 Z" fill="#5a0a0a"/>
</svg>
</body></html>
